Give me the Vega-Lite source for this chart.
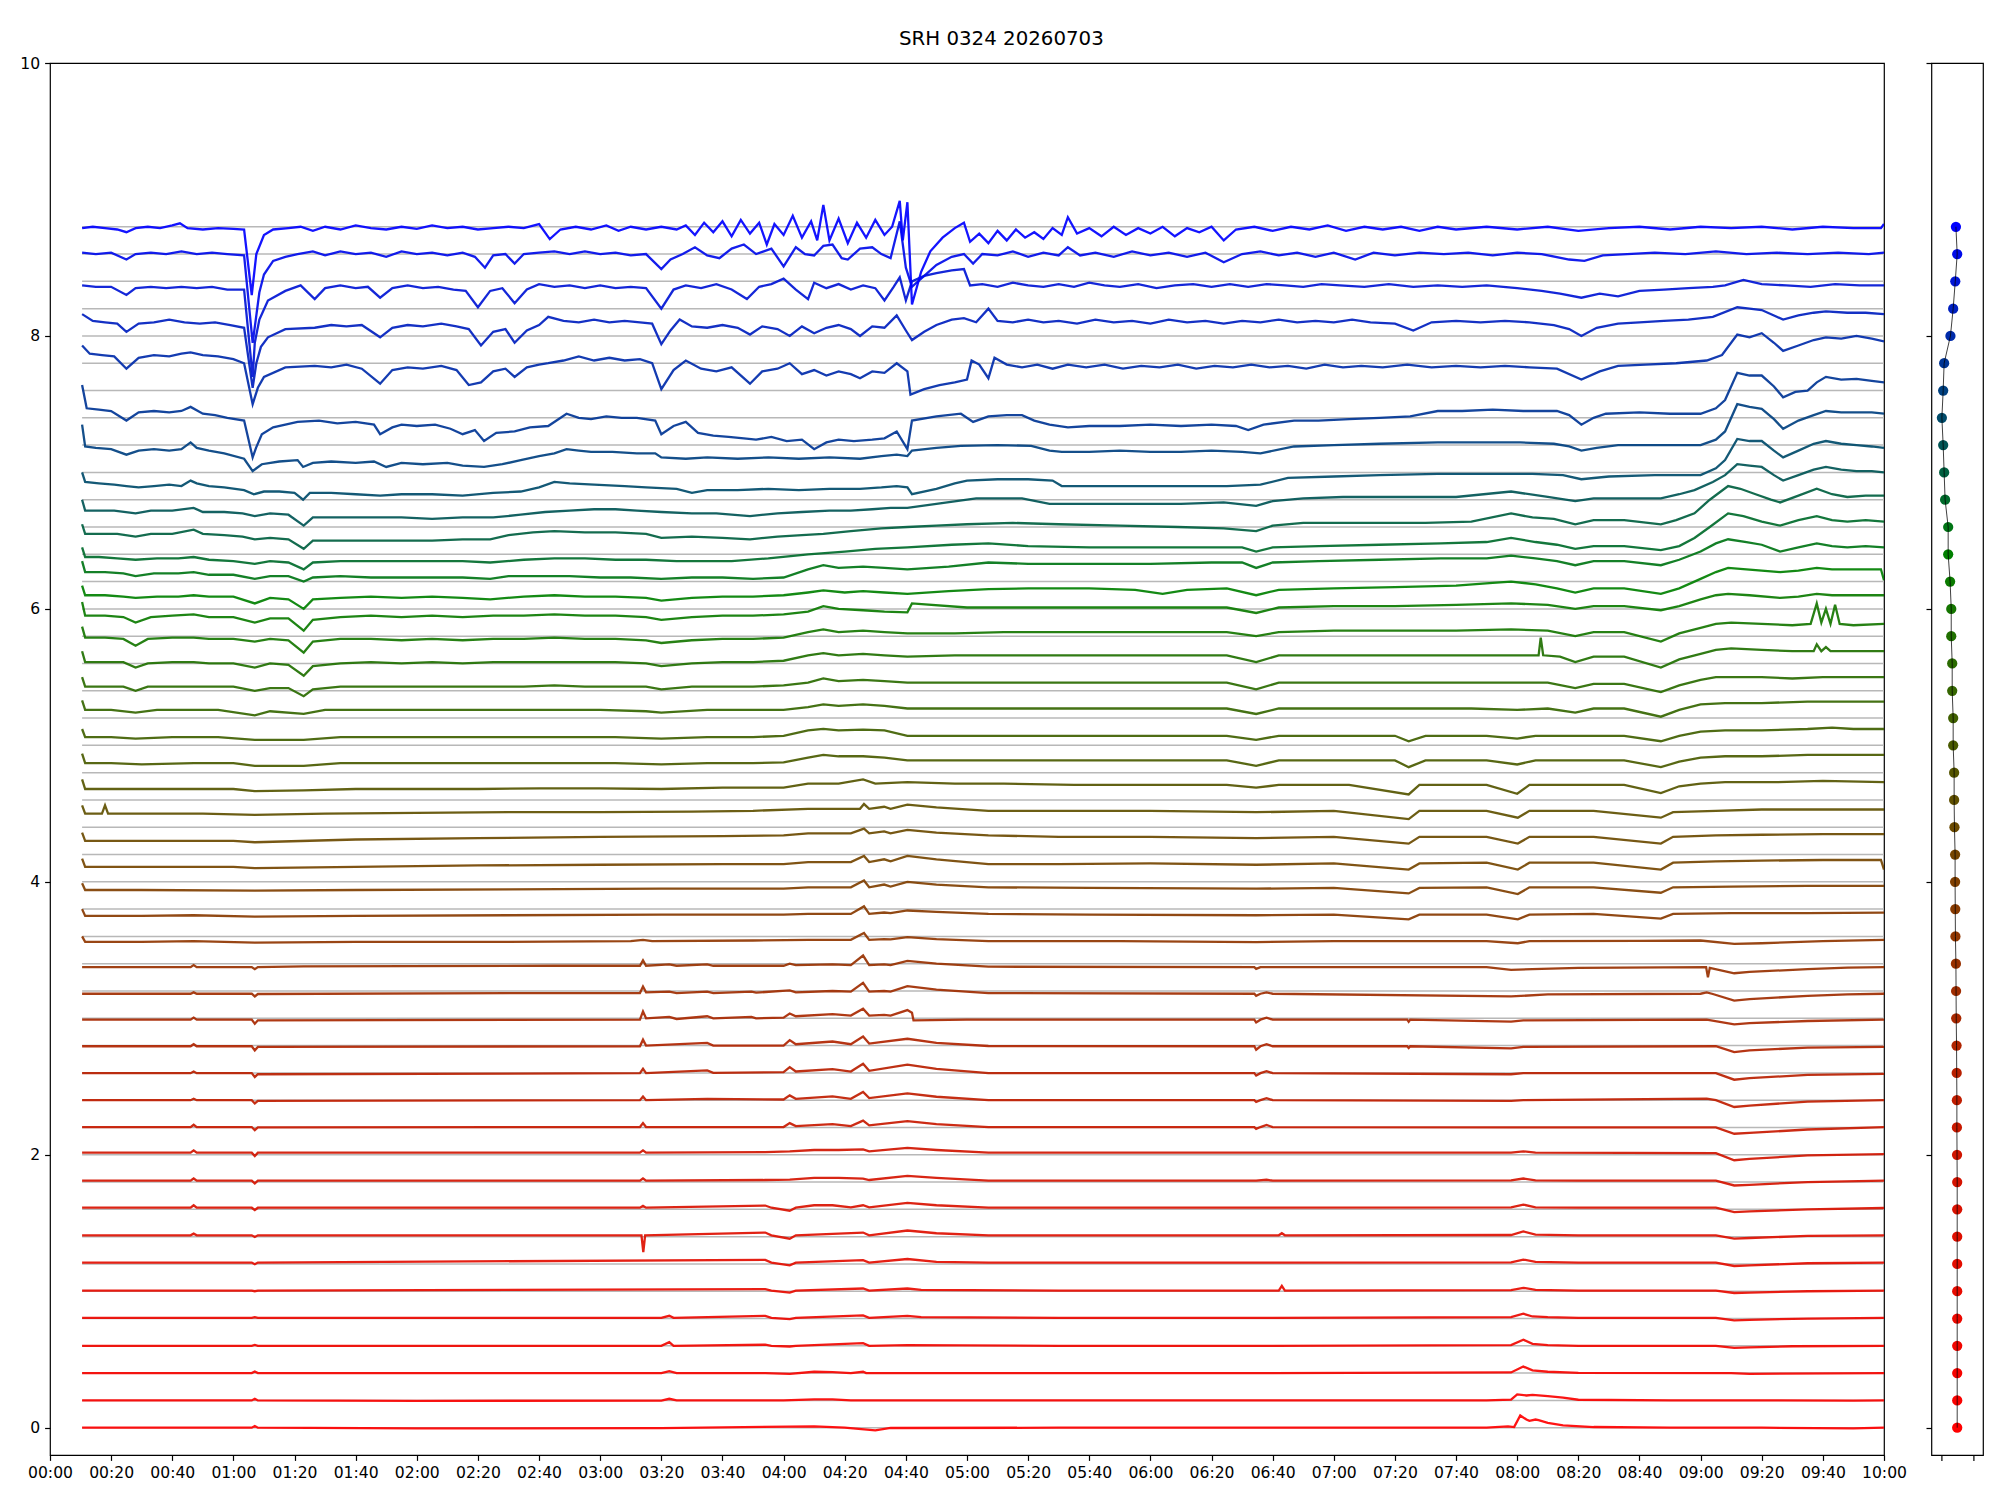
{"$schema":"https://vega.github.io/schema/vega-lite/v6.json","background":"white","padding":{"left":19,"top":29,"right":5,"bottom":5},
"title":{"text":"SRH 0324 20260703","fontSize":19.8,"font":"DejaVu Sans","fontWeight":"normal","color":"black","anchor":"middle","offset":6.5},
"config":{"view":{"stroke":"black","strokeWidth":1.2},"font":"DejaVu Sans","axis":{"domain":false,"tickColor":"black","tickWidth":1.2,"labelColor":"black","labelFont":"DejaVu Sans","labelFontSize":15.6,"grid":false,"title":null}},
"bounds":"flush",
"spacing":47.4,
"datasets":{
"pts":[{"s":0,"y":0,"x":0},{"s":1,"y":0.2,"x":0},{"s":2,"y":0.4,"x":0},{"s":3,"y":0.6,"x":0},{"s":4,"y":0.8,"x":0},{"s":5,"y":1.0,"x":0},{"s":6,"y":1.2,"x":0},{"s":7,"y":1.4,"x":0},{"s":8,"y":1.6,"x":0},{"s":9,"y":1.8,"x":0},{"s":10,"y":2.0,"x":-0.01},{"s":11,"y":2.2,"x":-0.02},{"s":12,"y":2.4,"x":-0.02},{"s":13,"y":2.6,"x":-0.03},{"s":14,"y":2.8,"x":-0.04},{"s":15,"y":3.0,"x":-0.06},{"s":16,"y":3.2,"x":-0.07},{"s":17,"y":3.4,"x":-0.08},{"s":18,"y":3.6,"x":-0.11},{"s":19,"y":3.8,"x":-0.12},{"s":20,"y":4.0,"x":-0.13},{"s":21,"y":4.2,"x":-0.13},{"s":22,"y":4.4,"x":-0.17},{"s":23,"y":4.6,"x":-0.19},{"s":24,"y":4.8,"x":-0.19},{"s":25,"y":5.0,"x":-0.25},{"s":26,"y":5.2,"x":-0.25},{"s":27,"y":5.4,"x":-0.31},{"s":28,"y":5.6,"x":-0.31},{"s":29,"y":5.8,"x":-0.37},{"s":30,"y":6.0,"x":-0.37},{"s":31,"y":6.2,"x":-0.44},{"s":32,"y":6.4,"x":-0.56},{"s":33,"y":6.6,"x":-0.56},{"s":34,"y":6.8,"x":-0.75},{"s":35,"y":7.0,"x":-0.81},{"s":36,"y":7.2,"x":-0.87},{"s":37,"y":7.4,"x":-0.95},{"s":38,"y":7.6,"x":-0.87},{"s":39,"y":7.8,"x":-0.81},{"s":40,"y":8.0,"x":-0.42},{"s":41,"y":8.2,"x":-0.25},{"s":42,"y":8.4,"x":-0.12},{"s":43,"y":8.6,"x":0.0},{"s":44,"y":8.8,"x":-0.08}],
"lines":[
{"s":0,"t":10.5,"y":0.0},{"s":0,"t":40,"y":0.0},{"s":0,"t":66,"y":0.0},{"s":0,"t":67,"y":0.012},{"s":0,"t":68,"y":0.0},{"s":0,"t":120,"y":-0.005},{"s":0,"t":200,"y":-0.003},{"s":0,"t":250,"y":0.01},{"s":0,"t":260,"y":0.0},{"s":0,"t":270,"y":-0.02},{"s":0,"t":275,"y":-0.002},{"s":0,"t":330,"y":0.0},{"s":0,"t":400,"y":0.0},{"s":0,"t":470,"y":0.0},{"s":0,"t":477,"y":0.01},{"s":0,"t":479,"y":0.005},{"s":0,"t":481,"y":0.09},{"s":0,"t":483,"y":0.06},{"s":0,"t":484,"y":0.05},{"s":0,"t":486,"y":0.06},{"s":0,"t":487,"y":0.055},{"s":0,"t":490,"y":0.035},{"s":0,"t":495,"y":0.017},{"s":0,"t":505,"y":0.005},{"s":0,"t":530,"y":0.0},{"s":0,"t":560,"y":0.0},{"s":0,"t":590,"y":-0.005},{"s":0,"t":600,"y":0.0},
{"s":1,"t":10.5,"y":0.2},{"s":1,"t":40,"y":0.2},{"s":1,"t":66,"y":0.2},{"s":1,"t":67,"y":0.212},{"s":1,"t":68,"y":0.2},{"s":1,"t":120,"y":0.197},{"s":1,"t":200,"y":0.198},{"s":1,"t":202.6,"y":0.212},{"s":1,"t":205,"y":0.2},{"s":1,"t":240,"y":0.2},{"s":1,"t":250,"y":0.207},{"s":1,"t":256,"y":0.207},{"s":1,"t":262,"y":0.2},{"s":1,"t":330,"y":0.2},{"s":1,"t":400,"y":0.2},{"s":1,"t":470,"y":0.2},{"s":1,"t":478,"y":0.205},{"s":1,"t":480,"y":0.244},{"s":1,"t":483,"y":0.236},{"s":1,"t":485,"y":0.24},{"s":1,"t":488,"y":0.235},{"s":1,"t":490,"y":0.232},{"s":1,"t":495,"y":0.22},{"s":1,"t":500,"y":0.205},{"s":1,"t":530,"y":0.2},{"s":1,"t":560,"y":0.2},{"s":1,"t":590,"y":0.198},{"s":1,"t":600,"y":0.2},
{"s":2,"t":10.5,"y":0.4},{"s":2,"t":40,"y":0.4},{"s":2,"t":66,"y":0.4},{"s":2,"t":67,"y":0.412},{"s":2,"t":68,"y":0.4},{"s":2,"t":120,"y":0.4},{"s":2,"t":200,"y":0.4},{"s":2,"t":202.6,"y":0.415},{"s":2,"t":205,"y":0.4},{"s":2,"t":234,"y":0.4},{"s":2,"t":242,"y":0.395},{"s":2,"t":250,"y":0.41},{"s":2,"t":256,"y":0.408},{"s":2,"t":262,"y":0.4},{"s":2,"t":266,"y":0.41},{"s":2,"t":267,"y":0.4},{"s":2,"t":330,"y":0.4},{"s":2,"t":400,"y":0.4},{"s":2,"t":478,"y":0.405},{"s":2,"t":482,"y":0.448},{"s":2,"t":485,"y":0.42},{"s":2,"t":490,"y":0.41},{"s":2,"t":500,"y":0.402},{"s":2,"t":550,"y":0.4},{"s":2,"t":556,"y":0.395},{"s":2,"t":600,"y":0.4},
{"s":3,"t":10.5,"y":0.6},{"s":3,"t":66,"y":0.6},{"s":3,"t":67,"y":0.607},{"s":3,"t":68,"y":0.6},{"s":3,"t":200,"y":0.6},{"s":3,"t":202.6,"y":0.627},{"s":3,"t":204,"y":0.6},{"s":3,"t":234,"y":0.608},{"s":3,"t":236,"y":0.6},{"s":3,"t":242,"y":0.595},{"s":3,"t":244,"y":0.6},{"s":3,"t":266,"y":0.62},{"s":3,"t":268,"y":0.6},{"s":3,"t":280.5,"y":0.605},{"s":3,"t":330,"y":0.6},{"s":3,"t":400,"y":0.6},{"s":3,"t":478,"y":0.605},{"s":3,"t":482,"y":0.645},{"s":3,"t":485,"y":0.615},{"s":3,"t":490,"y":0.605},{"s":3,"t":500,"y":0.6},{"s":3,"t":545,"y":0.6},{"s":3,"t":551,"y":0.585},{"s":3,"t":556,"y":0.588},{"s":3,"t":570,"y":0.597},{"s":3,"t":600,"y":0.6},
{"s":4,"t":10.5,"y":0.805},{"s":4,"t":66,"y":0.805},{"s":4,"t":67,"y":0.81},{"s":4,"t":68,"y":0.805},{"s":4,"t":200,"y":0.805},{"s":4,"t":202.6,"y":0.82},{"s":4,"t":204,"y":0.805},{"s":4,"t":234,"y":0.82},{"s":4,"t":236,"y":0.805},{"s":4,"t":242,"y":0.795},{"s":4,"t":244,"y":0.805},{"s":4,"t":266,"y":0.823},{"s":4,"t":268,"y":0.805},{"s":4,"t":280.5,"y":0.82},{"s":4,"t":285,"y":0.81},{"s":4,"t":330,"y":0.805},{"s":4,"t":400,"y":0.805},{"s":4,"t":478,"y":0.81},{"s":4,"t":482,"y":0.835},{"s":4,"t":485,"y":0.815},{"s":4,"t":490,"y":0.81},{"s":4,"t":500,"y":0.805},{"s":4,"t":545,"y":0.805},{"s":4,"t":551,"y":0.787},{"s":4,"t":556,"y":0.79},{"s":4,"t":575,"y":0.8},{"s":4,"t":600,"y":0.805},
{"s":5,"t":10.5,"y":1.005},{"s":5,"t":66,"y":1.005},{"s":5,"t":67,"y":1.0},{"s":5,"t":68,"y":1.005},{"s":5,"t":234,"y":1.015},{"s":5,"t":236,"y":1.005},{"s":5,"t":242,"y":0.99},{"s":5,"t":244,"y":1.005},{"s":5,"t":266,"y":1.02},{"s":5,"t":268,"y":1.005},{"s":5,"t":280.5,"y":1.02},{"s":5,"t":285,"y":1.01},{"s":5,"t":330,"y":1.005},{"s":5,"t":402,"y":1.005},{"s":5,"t":403,"y":1.04},{"s":5,"t":404,"y":1.005},{"s":5,"t":478,"y":1.008},{"s":5,"t":482,"y":1.025},{"s":5,"t":486,"y":1.01},{"s":5,"t":500,"y":1.005},{"s":5,"t":545,"y":1.005},{"s":5,"t":551,"y":0.987},{"s":5,"t":556,"y":0.99},{"s":5,"t":575,"y":1.0},{"s":5,"t":600,"y":1.005},
{"s":6,"t":10.5,"y":1.21},{"s":6,"t":47,"y":1.21},{"s":6,"t":66,"y":1.21},{"s":6,"t":67,"y":1.198},{"s":6,"t":68,"y":1.21},{"s":6,"t":234,"y":1.23},{"s":6,"t":236,"y":1.21},{"s":6,"t":242,"y":1.19},{"s":6,"t":244,"y":1.21},{"s":6,"t":266,"y":1.228},{"s":6,"t":268,"y":1.21},{"s":6,"t":280.5,"y":1.236},{"s":6,"t":290,"y":1.215},{"s":6,"t":307,"y":1.21},{"s":6,"t":398,"y":1.21},{"s":6,"t":478,"y":1.212},{"s":6,"t":482,"y":1.232},{"s":6,"t":486,"y":1.215},{"s":6,"t":500,"y":1.21},{"s":6,"t":545,"y":1.21},{"s":6,"t":551,"y":1.185},{"s":6,"t":556,"y":1.19},{"s":6,"t":575,"y":1.205},{"s":6,"t":600,"y":1.21},
{"s":7,"t":10.5,"y":1.41},{"s":7,"t":46,"y":1.41},{"s":7,"t":47,"y":1.422},{"s":7,"t":48,"y":1.41},{"s":7,"t":66,"y":1.41},{"s":7,"t":67,"y":1.398},{"s":7,"t":68,"y":1.41},{"s":7,"t":193.5,"y":1.41},{"s":7,"t":194.1,"y":1.287},{"s":7,"t":194.7,"y":1.41},{"s":7,"t":234,"y":1.43},{"s":7,"t":236,"y":1.41},{"s":7,"t":242,"y":1.385},{"s":7,"t":244,"y":1.41},{"s":7,"t":266,"y":1.43},{"s":7,"t":268,"y":1.41},{"s":7,"t":280.5,"y":1.445},{"s":7,"t":290,"y":1.425},{"s":7,"t":307,"y":1.41},{"s":7,"t":402,"y":1.41},{"s":7,"t":403,"y":1.425},{"s":7,"t":404,"y":1.41},{"s":7,"t":478,"y":1.412},{"s":7,"t":482,"y":1.438},{"s":7,"t":486,"y":1.415},{"s":7,"t":500,"y":1.41},{"s":7,"t":545,"y":1.41},{"s":7,"t":551,"y":1.385},{"s":7,"t":556,"y":1.39},{"s":7,"t":575,"y":1.405},{"s":7,"t":600,"y":1.41},
{"s":8,"t":10.5,"y":1.612},{"s":8,"t":46,"y":1.612},{"s":8,"t":47,"y":1.63},{"s":8,"t":48,"y":1.612},{"s":8,"t":66,"y":1.612},{"s":8,"t":67,"y":1.595},{"s":8,"t":68,"y":1.612},{"s":8,"t":193,"y":1.612},{"s":8,"t":194,"y":1.625},{"s":8,"t":195,"y":1.612},{"s":8,"t":234,"y":1.628},{"s":8,"t":236,"y":1.612},{"s":8,"t":242,"y":1.59},{"s":8,"t":244,"y":1.612},{"s":8,"t":250,"y":1.63},{"s":8,"t":256,"y":1.63},{"s":8,"t":262,"y":1.615},{"s":8,"t":266,"y":1.63},{"s":8,"t":268,"y":1.615},{"s":8,"t":280.5,"y":1.648},{"s":8,"t":290,"y":1.63},{"s":8,"t":307,"y":1.612},{"s":8,"t":400,"y":1.612},{"s":8,"t":478,"y":1.614},{"s":8,"t":482,"y":1.635},{"s":8,"t":486,"y":1.615},{"s":8,"t":500,"y":1.612},{"s":8,"t":545,"y":1.612},{"s":8,"t":551,"y":1.58},{"s":8,"t":556,"y":1.585},{"s":8,"t":575,"y":1.6},{"s":8,"t":600,"y":1.61},
{"s":9,"t":10.5,"y":1.81},{"s":9,"t":46,"y":1.81},{"s":9,"t":47,"y":1.826},{"s":9,"t":48,"y":1.81},{"s":9,"t":66,"y":1.81},{"s":9,"t":67,"y":1.79},{"s":9,"t":68,"y":1.81},{"s":9,"t":193,"y":1.81},{"s":9,"t":194,"y":1.826},{"s":9,"t":195,"y":1.81},{"s":9,"t":234,"y":1.815},{"s":9,"t":242,"y":1.818},{"s":9,"t":250,"y":1.83},{"s":9,"t":258,"y":1.83},{"s":9,"t":266,"y":1.825},{"s":9,"t":268,"y":1.815},{"s":9,"t":280.5,"y":1.845},{"s":9,"t":290,"y":1.83},{"s":9,"t":307,"y":1.81},{"s":9,"t":394.6,"y":1.81},{"s":9,"t":398,"y":1.817},{"s":9,"t":400,"y":1.81},{"s":9,"t":478,"y":1.812},{"s":9,"t":482,"y":1.826},{"s":9,"t":486,"y":1.812},{"s":9,"t":500,"y":1.81},{"s":9,"t":545,"y":1.81},{"s":9,"t":551,"y":1.775},{"s":9,"t":556,"y":1.78},{"s":9,"t":575,"y":1.8},{"s":9,"t":600,"y":1.81},
{"s":10,"t":10.5,"y":2.015},{"s":10,"t":46,"y":2.015},{"s":10,"t":47,"y":2.032},{"s":10,"t":48,"y":2.015},{"s":10,"t":66,"y":2.015},{"s":10,"t":67,"y":1.99},{"s":10,"t":68,"y":2.015},{"s":10,"t":193,"y":2.015},{"s":10,"t":194,"y":2.032},{"s":10,"t":195,"y":2.015},{"s":10,"t":234,"y":2.02},{"s":10,"t":242,"y":2.025},{"s":10,"t":250,"y":2.035},{"s":10,"t":258,"y":2.035},{"s":10,"t":266,"y":2.04},{"s":10,"t":268,"y":2.025},{"s":10,"t":280.5,"y":2.05},{"s":10,"t":290,"y":2.035},{"s":10,"t":307,"y":2.015},{"s":10,"t":400,"y":2.015},{"s":10,"t":478,"y":2.015},{"s":10,"t":482,"y":2.025},{"s":10,"t":486,"y":2.015},{"s":10,"t":545,"y":2.012},{"s":10,"t":551,"y":1.96},{"s":10,"t":556,"y":1.97},{"s":10,"t":575,"y":1.995},{"s":10,"t":600,"y":2.005},
{"s":11,"t":10.5,"y":2.203},{"s":11,"t":46,"y":2.203},{"s":11,"t":47,"y":2.22},{"s":11,"t":48,"y":2.203},{"s":11,"t":66,"y":2.203},{"s":11,"t":67,"y":2.18},{"s":11,"t":68,"y":2.2},{"s":11,"t":193,"y":2.203},{"s":11,"t":194,"y":2.232},{"s":11,"t":195,"y":2.203},{"s":11,"t":240,"y":2.203},{"s":11,"t":242,"y":2.232},{"s":11,"t":244,"y":2.21},{"s":11,"t":256,"y":2.225},{"s":11,"t":262,"y":2.21},{"s":11,"t":266,"y":2.25},{"s":11,"t":268,"y":2.215},{"s":11,"t":280.5,"y":2.247},{"s":11,"t":290,"y":2.225},{"s":11,"t":307,"y":2.203},{"s":11,"t":394,"y":2.203},{"s":11,"t":394.6,"y":2.19},{"s":11,"t":396,"y":2.203},{"s":11,"t":398,"y":2.218},{"s":11,"t":400,"y":2.203},{"s":11,"t":478,"y":2.2},{"s":11,"t":545,"y":2.2},{"s":11,"t":551,"y":2.154},{"s":11,"t":556,"y":2.16},{"s":11,"t":575,"y":2.185},{"s":11,"t":600,"y":2.203},
{"s":12,"t":10.5,"y":2.4},{"s":12,"t":46,"y":2.4},{"s":12,"t":47,"y":2.41},{"s":12,"t":48,"y":2.4},{"s":12,"t":66,"y":2.4},{"s":12,"t":67,"y":2.376},{"s":12,"t":68,"y":2.395},{"s":12,"t":193,"y":2.4},{"s":12,"t":194,"y":2.427},{"s":12,"t":195,"y":2.4},{"s":12,"t":215,"y":2.41},{"s":12,"t":240,"y":2.405},{"s":12,"t":242,"y":2.435},{"s":12,"t":244,"y":2.41},{"s":12,"t":256,"y":2.428},{"s":12,"t":262,"y":2.41},{"s":12,"t":266,"y":2.46},{"s":12,"t":268,"y":2.415},{"s":12,"t":280.5,"y":2.45},{"s":12,"t":290,"y":2.425},{"s":12,"t":307,"y":2.4},{"s":12,"t":394,"y":2.4},{"s":12,"t":394.6,"y":2.388},{"s":12,"t":396,"y":2.4},{"s":12,"t":398,"y":2.415},{"s":12,"t":400,"y":2.4},{"s":12,"t":478,"y":2.395},{"s":12,"t":482,"y":2.4},{"s":12,"t":542,"y":2.412},{"s":12,"t":545,"y":2.4},{"s":12,"t":551,"y":2.35},{"s":12,"t":556,"y":2.36},{"s":12,"t":575,"y":2.39},{"s":12,"t":600,"y":2.4},
{"s":13,"t":10.5,"y":2.598},{"s":13,"t":46,"y":2.598},{"s":13,"t":47,"y":2.61},{"s":13,"t":48,"y":2.598},{"s":13,"t":66,"y":2.598},{"s":13,"t":67,"y":2.57},{"s":13,"t":68,"y":2.59},{"s":13,"t":193,"y":2.598},{"s":13,"t":194,"y":2.63},{"s":13,"t":195,"y":2.598},{"s":13,"t":215,"y":2.618},{"s":13,"t":217,"y":2.6},{"s":13,"t":240,"y":2.605},{"s":13,"t":242,"y":2.642},{"s":13,"t":244,"y":2.61},{"s":13,"t":256,"y":2.628},{"s":13,"t":262,"y":2.61},{"s":13,"t":266,"y":2.667},{"s":13,"t":268,"y":2.615},{"s":13,"t":280.5,"y":2.66},{"s":13,"t":290,"y":2.63},{"s":13,"t":307,"y":2.598},{"s":13,"t":394,"y":2.598},{"s":13,"t":394.6,"y":2.58},{"s":13,"t":396,"y":2.598},{"s":13,"t":398,"y":2.612},{"s":13,"t":400,"y":2.598},{"s":13,"t":478,"y":2.59},{"s":13,"t":482,"y":2.598},{"s":13,"t":545,"y":2.598},{"s":13,"t":551,"y":2.55},{"s":13,"t":556,"y":2.562},{"s":13,"t":575,"y":2.585},{"s":13,"t":600,"y":2.593},
{"s":14,"t":10.5,"y":2.795},{"s":14,"t":46,"y":2.795},{"s":14,"t":47,"y":2.81},{"s":14,"t":48,"y":2.795},{"s":14,"t":66,"y":2.795},{"s":14,"t":67,"y":2.765},{"s":14,"t":68,"y":2.79},{"s":14,"t":193,"y":2.795},{"s":14,"t":194,"y":2.843},{"s":14,"t":195,"y":2.8},{"s":14,"t":215,"y":2.82},{"s":14,"t":217,"y":2.8},{"s":14,"t":240,"y":2.8},{"s":14,"t":242,"y":2.84},{"s":14,"t":244,"y":2.81},{"s":14,"t":256,"y":2.83},{"s":14,"t":262,"y":2.81},{"s":14,"t":266,"y":2.867},{"s":14,"t":268,"y":2.815},{"s":14,"t":280.5,"y":2.85},{"s":14,"t":290,"y":2.82},{"s":14,"t":307,"y":2.797},{"s":14,"t":394,"y":2.795},{"s":14,"t":394.6,"y":2.77},{"s":14,"t":396,"y":2.795},{"s":14,"t":398,"y":2.81},{"s":14,"t":400,"y":2.795},{"s":14,"t":444,"y":2.795},{"s":14,"t":444.5,"y":2.782},{"s":14,"t":445,"y":2.795},{"s":14,"t":478,"y":2.78},{"s":14,"t":482,"y":2.79},{"s":14,"t":545,"y":2.795},{"s":14,"t":551,"y":2.752},{"s":14,"t":556,"y":2.765},{"s":14,"t":575,"y":2.785},{"s":14,"t":600,"y":2.79},
{"s":15,"t":10.5,"y":2.99},{"s":15,"t":46,"y":2.99},{"s":15,"t":47,"y":3.005},{"s":15,"t":48,"y":2.99},{"s":15,"t":66,"y":2.99},{"s":15,"t":67,"y":2.96},{"s":15,"t":68,"y":2.985},{"s":15,"t":193,"y":2.99},{"s":15,"t":194,"y":3.05},{"s":15,"t":195,"y":3.0},{"s":15,"t":202.6,"y":3.01},{"s":15,"t":205,"y":2.995},{"s":15,"t":215,"y":3.015},{"s":15,"t":217,"y":3.0},{"s":15,"t":229.5,"y":3.01},{"s":15,"t":231,"y":3.0},{"s":15,"t":240,"y":3.005},{"s":15,"t":242,"y":3.035},{"s":15,"t":244,"y":3.015},{"s":15,"t":256,"y":3.03},{"s":15,"t":262,"y":3.02},{"s":15,"t":266,"y":3.07},{"s":15,"t":268,"y":3.02},{"s":15,"t":272.9,"y":3.025},{"s":15,"t":275,"y":3.02},{"s":15,"t":280.5,"y":3.06},{"s":15,"t":282,"y":3.04},{"s":15,"t":282.5,"y":2.985},{"s":15,"t":300,"y":2.99},{"s":15,"t":394,"y":2.99},{"s":15,"t":394.6,"y":2.97},{"s":15,"t":396,"y":2.99},{"s":15,"t":398,"y":3.005},{"s":15,"t":400,"y":2.99},{"s":15,"t":444,"y":2.99},{"s":15,"t":444.5,"y":2.975},{"s":15,"t":445,"y":2.99},{"s":15,"t":478,"y":2.975},{"s":15,"t":482,"y":2.985},{"s":15,"t":542,"y":2.99},{"s":15,"t":551,"y":2.955},{"s":15,"t":556,"y":2.965},{"s":15,"t":575,"y":2.98},{"s":15,"t":600,"y":2.99},
{"s":16,"t":10.5,"y":3.18},{"s":16,"t":46,"y":3.18},{"s":16,"t":47,"y":3.19},{"s":16,"t":48,"y":3.18},{"s":16,"t":66,"y":3.18},{"s":16,"t":67,"y":3.16},{"s":16,"t":68,"y":3.178},{"s":16,"t":165,"y":3.185},{"s":16,"t":193,"y":3.185},{"s":16,"t":194,"y":3.233},{"s":16,"t":195,"y":3.19},{"s":16,"t":202.6,"y":3.195},{"s":16,"t":205,"y":3.185},{"s":16,"t":215,"y":3.195},{"s":16,"t":217,"y":3.185},{"s":16,"t":229.5,"y":3.195},{"s":16,"t":231,"y":3.188},{"s":16,"t":242,"y":3.205},{"s":16,"t":244,"y":3.19},{"s":16,"t":256,"y":3.2},{"s":16,"t":262,"y":3.195},{"s":16,"t":266,"y":3.26},{"s":16,"t":268,"y":3.195},{"s":16,"t":272.9,"y":3.2},{"s":16,"t":275,"y":3.195},{"s":16,"t":280.5,"y":3.236},{"s":16,"t":290,"y":3.21},{"s":16,"t":307,"y":3.185},{"s":16,"t":394,"y":3.18},{"s":16,"t":394.6,"y":3.165},{"s":16,"t":396,"y":3.18},{"s":16,"t":398,"y":3.19},{"s":16,"t":400,"y":3.18},{"s":16,"t":478,"y":3.16},{"s":16,"t":490,"y":3.175},{"s":16,"t":540,"y":3.18},{"s":16,"t":542,"y":3.19},{"s":16,"t":544,"y":3.178},{"s":16,"t":551,"y":3.13},{"s":16,"t":556,"y":3.14},{"s":16,"t":575,"y":3.165},{"s":16,"t":588,"y":3.175},{"s":16,"t":600,"y":3.18},
{"s":17,"t":10.5,"y":3.375},{"s":17,"t":46,"y":3.375},{"s":17,"t":47,"y":3.39},{"s":17,"t":48,"y":3.375},{"s":17,"t":66,"y":3.375},{"s":17,"t":67,"y":3.36},{"s":17,"t":68,"y":3.375},{"s":17,"t":83,"y":3.38},{"s":17,"t":165,"y":3.385},{"s":17,"t":193,"y":3.385},{"s":17,"t":194,"y":3.424},{"s":17,"t":195,"y":3.385},{"s":17,"t":202.6,"y":3.395},{"s":17,"t":205,"y":3.385},{"s":17,"t":215,"y":3.395},{"s":17,"t":217,"y":3.385},{"s":17,"t":240,"y":3.385},{"s":17,"t":242,"y":3.4},{"s":17,"t":244,"y":3.39},{"s":17,"t":256,"y":3.395},{"s":17,"t":262,"y":3.39},{"s":17,"t":266,"y":3.46},{"s":17,"t":268,"y":3.39},{"s":17,"t":272.9,"y":3.395},{"s":17,"t":275,"y":3.39},{"s":17,"t":280.5,"y":3.42},{"s":17,"t":290,"y":3.4},{"s":17,"t":307,"y":3.378},{"s":17,"t":394,"y":3.375},{"s":17,"t":394.6,"y":3.362},{"s":17,"t":396,"y":3.375},{"s":17,"t":470,"y":3.375},{"s":17,"t":478,"y":3.355},{"s":17,"t":485,"y":3.36},{"s":17,"t":500,"y":3.37},{"s":17,"t":541.8,"y":3.375},{"s":17,"t":542.4,"y":3.3},{"s":17,"t":543,"y":3.37},{"s":17,"t":551,"y":3.33},{"s":17,"t":556,"y":3.34},{"s":17,"t":575,"y":3.36},{"s":17,"t":588,"y":3.372},{"s":17,"t":600,"y":3.375},
{"s":18,"t":10.5,"y":3.6},{"s":18,"t":11.5,"y":3.56},{"s":18,"t":30,"y":3.56},{"s":18,"t":47,"y":3.565},{"s":18,"t":67,"y":3.555},{"s":18,"t":100,"y":3.56},{"s":18,"t":150,"y":3.56},{"s":18,"t":190,"y":3.565},{"s":18,"t":194,"y":3.575},{"s":18,"t":197,"y":3.565},{"s":18,"t":230,"y":3.57},{"s":18,"t":248,"y":3.575},{"s":18,"t":262,"y":3.575},{"s":18,"t":266.3,"y":3.625},{"s":18,"t":268,"y":3.575},{"s":18,"t":272.9,"y":3.58},{"s":18,"t":275,"y":3.578},{"s":18,"t":280.5,"y":3.595},{"s":18,"t":290,"y":3.58},{"s":18,"t":307,"y":3.565},{"s":18,"t":350,"y":3.565},{"s":18,"t":394.6,"y":3.558},{"s":18,"t":420,"y":3.565},{"s":18,"t":470,"y":3.565},{"s":18,"t":480.2,"y":3.55},{"s":18,"t":484,"y":3.565},{"s":18,"t":520,"y":3.568},{"s":18,"t":540,"y":3.57},{"s":18,"t":551,"y":3.545},{"s":18,"t":560,"y":3.55},{"s":18,"t":580,"y":3.565},{"s":18,"t":600,"y":3.575},
{"s":19,"t":10.5,"y":3.8},{"s":19,"t":11.5,"y":3.75},{"s":19,"t":30,"y":3.75},{"s":19,"t":47,"y":3.755},{"s":19,"t":67,"y":3.745},{"s":19,"t":100,"y":3.75},{"s":19,"t":150,"y":3.755},{"s":19,"t":200,"y":3.76},{"s":19,"t":240,"y":3.76},{"s":19,"t":248,"y":3.765},{"s":19,"t":262,"y":3.765},{"s":19,"t":266.3,"y":3.82},{"s":19,"t":268,"y":3.765},{"s":19,"t":272.9,"y":3.775},{"s":19,"t":275,"y":3.77},{"s":19,"t":280.5,"y":3.79},{"s":19,"t":290,"y":3.78},{"s":19,"t":307,"y":3.765},{"s":19,"t":340,"y":3.76},{"s":19,"t":394.6,"y":3.755},{"s":19,"t":420,"y":3.76},{"s":19,"t":444.5,"y":3.725},{"s":19,"t":448,"y":3.76},{"s":19,"t":470,"y":3.76},{"s":19,"t":480.2,"y":3.725},{"s":19,"t":484,"y":3.76},{"s":19,"t":505,"y":3.765},{"s":19,"t":527,"y":3.73},{"s":19,"t":531,"y":3.765},{"s":19,"t":550,"y":3.77},{"s":19,"t":575,"y":3.77},{"s":19,"t":600,"y":3.775},
{"s":20,"t":10.5,"y":3.99},{"s":20,"t":11.5,"y":3.94},{"s":20,"t":30,"y":3.94},{"s":20,"t":67,"y":3.935},{"s":20,"t":100,"y":3.94},{"s":20,"t":150,"y":3.945},{"s":20,"t":200,"y":3.95},{"s":20,"t":240,"y":3.95},{"s":20,"t":248,"y":3.96},{"s":20,"t":262,"y":3.96},{"s":20,"t":266.3,"y":4.01},{"s":20,"t":268,"y":3.96},{"s":20,"t":272.9,"y":3.98},{"s":20,"t":275,"y":3.965},{"s":20,"t":280.5,"y":4.0},{"s":20,"t":290,"y":3.98},{"s":20,"t":307,"y":3.96},{"s":20,"t":340,"y":3.955},{"s":20,"t":394.6,"y":3.95},{"s":20,"t":420,"y":3.955},{"s":20,"t":444.5,"y":3.915},{"s":20,"t":448,"y":3.955},{"s":20,"t":470,"y":3.96},{"s":20,"t":480.2,"y":3.91},{"s":20,"t":484,"y":3.96},{"s":20,"t":505,"y":3.96},{"s":20,"t":527,"y":3.92},{"s":20,"t":531,"y":3.96},{"s":20,"t":550,"y":3.965},{"s":20,"t":575,"y":3.97},{"s":20,"t":600,"y":3.97},
{"s":21,"t":10.5,"y":4.17},{"s":21,"t":11.5,"y":4.11},{"s":21,"t":30,"y":4.11},{"s":21,"t":60,"y":4.11},{"s":21,"t":67,"y":4.1},{"s":21,"t":100,"y":4.11},{"s":21,"t":140,"y":4.12},{"s":21,"t":180,"y":4.125},{"s":21,"t":220,"y":4.13},{"s":21,"t":240,"y":4.13},{"s":21,"t":248,"y":4.145},{"s":21,"t":262,"y":4.145},{"s":21,"t":266.3,"y":4.19},{"s":21,"t":268,"y":4.145},{"s":21,"t":272.9,"y":4.165},{"s":21,"t":275,"y":4.15},{"s":21,"t":280.5,"y":4.19},{"s":21,"t":290,"y":4.165},{"s":21,"t":307,"y":4.13},{"s":21,"t":330,"y":4.13},{"s":21,"t":360,"y":4.135},{"s":21,"t":394.6,"y":4.125},{"s":21,"t":420,"y":4.135},{"s":21,"t":444.5,"y":4.09},{"s":21,"t":448,"y":4.135},{"s":21,"t":470,"y":4.14},{"s":21,"t":480.2,"y":4.09},{"s":21,"t":484,"y":4.14},{"s":21,"t":505,"y":4.14},{"s":21,"t":527,"y":4.09},{"s":21,"t":531,"y":4.14},{"s":21,"t":545,"y":4.15},{"s":21,"t":560,"y":4.155},{"s":21,"t":580,"y":4.16},{"s":21,"t":599,"y":4.16},{"s":21,"t":600,"y":4.09},
{"s":22,"t":10.5,"y":4.36},{"s":22,"t":11.5,"y":4.3},{"s":22,"t":30,"y":4.3},{"s":22,"t":60,"y":4.3},{"s":22,"t":67,"y":4.29},{"s":22,"t":100,"y":4.31},{"s":22,"t":140,"y":4.32},{"s":22,"t":180,"y":4.33},{"s":22,"t":220,"y":4.335},{"s":22,"t":240,"y":4.34},{"s":22,"t":248,"y":4.355},{"s":22,"t":262,"y":4.355},{"s":22,"t":266.3,"y":4.39},{"s":22,"t":268,"y":4.355},{"s":22,"t":272.9,"y":4.37},{"s":22,"t":275,"y":4.355},{"s":22,"t":280.5,"y":4.38},{"s":22,"t":290,"y":4.36},{"s":22,"t":307,"y":4.34},{"s":22,"t":330,"y":4.33},{"s":22,"t":360,"y":4.33},{"s":22,"t":394.6,"y":4.32},{"s":22,"t":420,"y":4.33},{"s":22,"t":444.5,"y":4.28},{"s":22,"t":448,"y":4.33},{"s":22,"t":470,"y":4.33},{"s":22,"t":480.2,"y":4.28},{"s":22,"t":484,"y":4.33},{"s":22,"t":505,"y":4.33},{"s":22,"t":527,"y":4.28},{"s":22,"t":531,"y":4.33},{"s":22,"t":545,"y":4.34},{"s":22,"t":560,"y":4.345},{"s":22,"t":580,"y":4.35},{"s":22,"t":600,"y":4.35},
{"s":23,"t":10.5,"y":4.56},{"s":23,"t":11.5,"y":4.5},{"s":23,"t":17,"y":4.5},{"s":23,"t":18,"y":4.56},{"s":23,"t":19,"y":4.5},{"s":23,"t":30,"y":4.5},{"s":23,"t":50,"y":4.5},{"s":23,"t":67,"y":4.49},{"s":23,"t":90,"y":4.5},{"s":23,"t":120,"y":4.505},{"s":23,"t":150,"y":4.51},{"s":23,"t":180,"y":4.51},{"s":23,"t":210,"y":4.515},{"s":23,"t":230,"y":4.52},{"s":23,"t":248,"y":4.535},{"s":23,"t":265,"y":4.535},{"s":23,"t":266.3,"y":4.57},{"s":23,"t":268,"y":4.535},{"s":23,"t":272.9,"y":4.55},{"s":23,"t":275,"y":4.535},{"s":23,"t":280.5,"y":4.565},{"s":23,"t":290,"y":4.545},{"s":23,"t":307,"y":4.52},{"s":23,"t":330,"y":4.52},{"s":23,"t":360,"y":4.52},{"s":23,"t":394.6,"y":4.51},{"s":23,"t":420,"y":4.52},{"s":23,"t":444.5,"y":4.46},{"s":23,"t":448,"y":4.52},{"s":23,"t":470,"y":4.52},{"s":23,"t":480.2,"y":4.47},{"s":23,"t":484,"y":4.52},{"s":23,"t":505,"y":4.52},{"s":23,"t":527,"y":4.47},{"s":23,"t":531,"y":4.51},{"s":23,"t":545,"y":4.52},{"s":23,"t":560,"y":4.53},{"s":23,"t":580,"y":4.53},{"s":23,"t":600,"y":4.53},
{"s":24,"t":10.5,"y":4.75},{"s":24,"t":11.5,"y":4.68},{"s":24,"t":25,"y":4.68},{"s":24,"t":40,"y":4.68},{"s":24,"t":60,"y":4.68},{"s":24,"t":67,"y":4.665},{"s":24,"t":83,"y":4.67},{"s":24,"t":100,"y":4.68},{"s":24,"t":120,"y":4.68},{"s":24,"t":140,"y":4.68},{"s":24,"t":160,"y":4.685},{"s":24,"t":180,"y":4.685},{"s":24,"t":200,"y":4.68},{"s":24,"t":220,"y":4.69},{"s":24,"t":240,"y":4.69},{"s":24,"t":248,"y":4.72},{"s":24,"t":258,"y":4.72},{"s":24,"t":266,"y":4.75},{"s":24,"t":270,"y":4.72},{"s":24,"t":280.5,"y":4.73},{"s":24,"t":296,"y":4.72},{"s":24,"t":312,"y":4.72},{"s":24,"t":335,"y":4.71},{"s":24,"t":360,"y":4.71},{"s":24,"t":385,"y":4.71},{"s":24,"t":394.6,"y":4.69},{"s":24,"t":402,"y":4.71},{"s":24,"t":425,"y":4.71},{"s":24,"t":444.5,"y":4.64},{"s":24,"t":448,"y":4.71},{"s":24,"t":470,"y":4.71},{"s":24,"t":480,"y":4.645},{"s":24,"t":484,"y":4.71},{"s":24,"t":500,"y":4.71},{"s":24,"t":515,"y":4.71},{"s":24,"t":527,"y":4.65},{"s":24,"t":533,"y":4.7},{"s":24,"t":540,"y":4.72},{"s":24,"t":548,"y":4.73},{"s":24,"t":565,"y":4.73},{"s":24,"t":580,"y":4.74},{"s":24,"t":600,"y":4.73},
{"s":25,"t":10.5,"y":4.94},{"s":25,"t":11.5,"y":4.87},{"s":25,"t":20,"y":4.87},{"s":25,"t":30,"y":4.86},{"s":25,"t":47,"y":4.87},{"s":25,"t":60,"y":4.87},{"s":25,"t":67,"y":4.85},{"s":25,"t":83,"y":4.85},{"s":25,"t":95,"y":4.87},{"s":25,"t":110,"y":4.87},{"s":25,"t":125,"y":4.87},{"s":25,"t":140,"y":4.87},{"s":25,"t":155,"y":4.87},{"s":25,"t":170,"y":4.87},{"s":25,"t":185,"y":4.87},{"s":25,"t":200,"y":4.86},{"s":25,"t":215,"y":4.87},{"s":25,"t":230,"y":4.87},{"s":25,"t":240,"y":4.875},{"s":25,"t":248,"y":4.91},{"s":25,"t":253,"y":4.93},{"s":25,"t":258,"y":4.92},{"s":25,"t":266,"y":4.92},{"s":25,"t":273,"y":4.91},{"s":25,"t":280.5,"y":4.89},{"s":25,"t":296,"y":4.89},{"s":25,"t":312,"y":4.89},{"s":25,"t":330,"y":4.89},{"s":25,"t":350,"y":4.89},{"s":25,"t":370,"y":4.89},{"s":25,"t":385,"y":4.89},{"s":25,"t":394.6,"y":4.85},{"s":25,"t":402,"y":4.89},{"s":25,"t":420,"y":4.89},{"s":25,"t":440,"y":4.89},{"s":25,"t":444.5,"y":4.84},{"s":25,"t":450,"y":4.89},{"s":25,"t":470,"y":4.89},{"s":25,"t":480,"y":4.86},{"s":25,"t":486,"y":4.89},{"s":25,"t":500,"y":4.89},{"s":25,"t":515,"y":4.89},{"s":25,"t":527,"y":4.84},{"s":25,"t":533,"y":4.88},{"s":25,"t":540,"y":4.91},{"s":25,"t":548,"y":4.92},{"s":25,"t":560,"y":4.92},{"s":25,"t":575,"y":4.93},{"s":25,"t":590,"y":4.93},{"s":25,"t":600,"y":4.93},
{"s":26,"t":10.5,"y":5.12},{"s":26,"t":11.5,"y":5.06},{"s":26,"t":20,"y":5.06},{"s":26,"t":28,"y":5.05},{"s":26,"t":40,"y":5.06},{"s":26,"t":47,"y":5.06},{"s":26,"t":55,"y":5.06},{"s":26,"t":67,"y":5.04},{"s":26,"t":83,"y":5.04},{"s":26,"t":95,"y":5.06},{"s":26,"t":110,"y":5.06},{"s":26,"t":125,"y":5.06},{"s":26,"t":140,"y":5.06},{"s":26,"t":155,"y":5.06},{"s":26,"t":170,"y":5.06},{"s":26,"t":185,"y":5.06},{"s":26,"t":200,"y":5.05},{"s":26,"t":215,"y":5.06},{"s":26,"t":230,"y":5.06},{"s":26,"t":240,"y":5.07},{"s":26,"t":248,"y":5.11},{"s":26,"t":253,"y":5.12},{"s":26,"t":258,"y":5.11},{"s":26,"t":266,"y":5.115},{"s":26,"t":273,"y":5.11},{"s":26,"t":280.5,"y":5.07},{"s":26,"t":296,"y":5.07},{"s":26,"t":312,"y":5.07},{"s":26,"t":330,"y":5.07},{"s":26,"t":350,"y":5.07},{"s":26,"t":370,"y":5.07},{"s":26,"t":385,"y":5.07},{"s":26,"t":394.6,"y":5.04},{"s":26,"t":402,"y":5.07},{"s":26,"t":420,"y":5.07},{"s":26,"t":440,"y":5.07},{"s":26,"t":444.5,"y":5.03},{"s":26,"t":450,"y":5.07},{"s":26,"t":470,"y":5.07},{"s":26,"t":480,"y":5.05},{"s":26,"t":486,"y":5.07},{"s":26,"t":500,"y":5.07},{"s":26,"t":515,"y":5.07},{"s":26,"t":527,"y":5.03},{"s":26,"t":533,"y":5.07},{"s":26,"t":540,"y":5.1},{"s":26,"t":548,"y":5.11},{"s":26,"t":560,"y":5.11},{"s":26,"t":575,"y":5.12},{"s":26,"t":583,"y":5.13},{"s":26,"t":590,"y":5.12},{"s":26,"t":600,"y":5.12},
{"s":27,"t":10.5,"y":5.33},{"s":27,"t":11.5,"y":5.26},{"s":27,"t":20,"y":5.26},{"s":27,"t":28,"y":5.24},{"s":27,"t":35,"y":5.26},{"s":27,"t":47,"y":5.26},{"s":27,"t":55,"y":5.26},{"s":27,"t":67,"y":5.22},{"s":27,"t":72,"y":5.25},{"s":27,"t":83,"y":5.23},{"s":27,"t":90,"y":5.26},{"s":27,"t":105,"y":5.26},{"s":27,"t":120,"y":5.26},{"s":27,"t":135,"y":5.26},{"s":27,"t":150,"y":5.26},{"s":27,"t":165,"y":5.26},{"s":27,"t":180,"y":5.26},{"s":27,"t":195,"y":5.25},{"s":27,"t":200,"y":5.24},{"s":27,"t":215,"y":5.26},{"s":27,"t":230,"y":5.26},{"s":27,"t":240,"y":5.26},{"s":27,"t":248,"y":5.28},{"s":27,"t":253,"y":5.3},{"s":27,"t":258,"y":5.29},{"s":27,"t":266,"y":5.3},{"s":27,"t":273,"y":5.29},{"s":27,"t":280.5,"y":5.27},{"s":27,"t":296,"y":5.27},{"s":27,"t":312,"y":5.27},{"s":27,"t":330,"y":5.27},{"s":27,"t":350,"y":5.27},{"s":27,"t":370,"y":5.27},{"s":27,"t":385,"y":5.27},{"s":27,"t":394.6,"y":5.23},{"s":27,"t":402,"y":5.27},{"s":27,"t":420,"y":5.27},{"s":27,"t":445,"y":5.27},{"s":27,"t":465,"y":5.27},{"s":27,"t":480,"y":5.26},{"s":27,"t":490,"y":5.27},{"s":27,"t":499,"y":5.24},{"s":27,"t":505,"y":5.27},{"s":27,"t":515,"y":5.27},{"s":27,"t":527,"y":5.21},{"s":27,"t":533,"y":5.26},{"s":27,"t":540,"y":5.3},{"s":27,"t":548,"y":5.31},{"s":27,"t":560,"y":5.31},{"s":27,"t":575,"y":5.32},{"s":27,"t":583,"y":5.32},{"s":27,"t":590,"y":5.32},{"s":27,"t":600,"y":5.32},
{"s":28,"t":10.5,"y":5.5},{"s":28,"t":11.5,"y":5.43},{"s":28,"t":18,"y":5.43},{"s":28,"t":24,"y":5.43},{"s":28,"t":28,"y":5.4},{"s":28,"t":32,"y":5.43},{"s":28,"t":40,"y":5.43},{"s":28,"t":47,"y":5.43},{"s":28,"t":52,"y":5.43},{"s":28,"t":60,"y":5.43},{"s":28,"t":67,"y":5.4},{"s":28,"t":72,"y":5.42},{"s":28,"t":78,"y":5.42},{"s":28,"t":83,"y":5.36},{"s":28,"t":86,"y":5.41},{"s":28,"t":95,"y":5.43},{"s":28,"t":105,"y":5.43},{"s":28,"t":115,"y":5.43},{"s":28,"t":125,"y":5.43},{"s":28,"t":135,"y":5.43},{"s":28,"t":145,"y":5.43},{"s":28,"t":155,"y":5.43},{"s":28,"t":165,"y":5.44},{"s":28,"t":175,"y":5.43},{"s":28,"t":185,"y":5.43},{"s":28,"t":195,"y":5.43},{"s":28,"t":200,"y":5.41},{"s":28,"t":210,"y":5.43},{"s":28,"t":220,"y":5.43},{"s":28,"t":230,"y":5.43},{"s":28,"t":240,"y":5.44},{"s":28,"t":248,"y":5.46},{"s":28,"t":253,"y":5.49},{"s":28,"t":258,"y":5.47},{"s":28,"t":266,"y":5.48},{"s":28,"t":273,"y":5.47},{"s":28,"t":280.5,"y":5.46},{"s":28,"t":296,"y":5.46},{"s":28,"t":312,"y":5.46},{"s":28,"t":330,"y":5.46},{"s":28,"t":350,"y":5.46},{"s":28,"t":370,"y":5.46},{"s":28,"t":385,"y":5.46},{"s":28,"t":394.6,"y":5.41},{"s":28,"t":402,"y":5.46},{"s":28,"t":420,"y":5.46},{"s":28,"t":440,"y":5.46},{"s":28,"t":460,"y":5.46},{"s":28,"t":478,"y":5.46},{"s":28,"t":490,"y":5.46},{"s":28,"t":499,"y":5.42},{"s":28,"t":505,"y":5.45},{"s":28,"t":515,"y":5.45},{"s":28,"t":527,"y":5.39},{"s":28,"t":533,"y":5.44},{"s":28,"t":540,"y":5.48},{"s":28,"t":545,"y":5.5},{"s":28,"t":560,"y":5.5},{"s":28,"t":570,"y":5.49},{"s":28,"t":580,"y":5.5},{"s":28,"t":590,"y":5.5},{"s":28,"t":600,"y":5.5},
{"s":29,"t":10.5,"y":5.69},{"s":29,"t":11.5,"y":5.61},{"s":29,"t":18,"y":5.61},{"s":29,"t":24,"y":5.61},{"s":29,"t":28,"y":5.57},{"s":29,"t":32,"y":5.6},{"s":29,"t":40,"y":5.61},{"s":29,"t":47,"y":5.61},{"s":29,"t":52,"y":5.6},{"s":29,"t":60,"y":5.6},{"s":29,"t":67,"y":5.57},{"s":29,"t":72,"y":5.6},{"s":29,"t":78,"y":5.59},{"s":29,"t":83,"y":5.51},{"s":29,"t":86,"y":5.58},{"s":29,"t":95,"y":5.6},{"s":29,"t":105,"y":5.61},{"s":29,"t":115,"y":5.6},{"s":29,"t":125,"y":5.61},{"s":29,"t":135,"y":5.6},{"s":29,"t":145,"y":5.61},{"s":29,"t":155,"y":5.61},{"s":29,"t":165,"y":5.61},{"s":29,"t":175,"y":5.61},{"s":29,"t":185,"y":5.61},{"s":29,"t":195,"y":5.6},{"s":29,"t":200,"y":5.58},{"s":29,"t":210,"y":5.6},{"s":29,"t":220,"y":5.61},{"s":29,"t":230,"y":5.61},{"s":29,"t":240,"y":5.62},{"s":29,"t":248,"y":5.66},{"s":29,"t":253,"y":5.675},{"s":29,"t":258,"y":5.66},{"s":29,"t":266,"y":5.67},{"s":29,"t":273,"y":5.66},{"s":29,"t":280.5,"y":5.65},{"s":29,"t":296,"y":5.66},{"s":29,"t":312,"y":5.66},{"s":29,"t":330,"y":5.66},{"s":29,"t":350,"y":5.66},{"s":29,"t":370,"y":5.66},{"s":29,"t":385,"y":5.66},{"s":29,"t":394.6,"y":5.61},{"s":29,"t":402,"y":5.66},{"s":29,"t":420,"y":5.66},{"s":29,"t":440,"y":5.66},{"s":29,"t":460,"y":5.66},{"s":29,"t":478,"y":5.66},{"s":29,"t":487,"y":5.66},{"s":29,"t":487.7,"y":5.79},{"s":29,"t":488.5,"y":5.66},{"s":29,"t":494,"y":5.65},{"s":29,"t":499,"y":5.61},{"s":29,"t":505,"y":5.65},{"s":29,"t":515,"y":5.65},{"s":29,"t":527,"y":5.57},{"s":29,"t":533,"y":5.63},{"s":29,"t":540,"y":5.67},{"s":29,"t":545,"y":5.7},{"s":29,"t":550,"y":5.71},{"s":29,"t":560,"y":5.7},{"s":29,"t":570,"y":5.69},{"s":29,"t":577,"y":5.69},{"s":29,"t":578,"y":5.74},{"s":29,"t":579.5,"y":5.69},{"s":29,"t":581,"y":5.72},{"s":29,"t":582.5,"y":5.69},{"s":29,"t":590,"y":5.69},{"s":29,"t":600,"y":5.69},
{"s":30,"t":10.5,"y":5.87},{"s":30,"t":11.5,"y":5.79},{"s":30,"t":18,"y":5.79},{"s":30,"t":24,"y":5.78},{"s":30,"t":28,"y":5.73},{"s":30,"t":32,"y":5.78},{"s":30,"t":40,"y":5.79},{"s":30,"t":47,"y":5.79},{"s":30,"t":52,"y":5.78},{"s":30,"t":60,"y":5.78},{"s":30,"t":67,"y":5.76},{"s":30,"t":72,"y":5.78},{"s":30,"t":78,"y":5.77},{"s":30,"t":83,"y":5.68},{"s":30,"t":86,"y":5.76},{"s":30,"t":95,"y":5.78},{"s":30,"t":105,"y":5.78},{"s":30,"t":115,"y":5.77},{"s":30,"t":125,"y":5.78},{"s":30,"t":135,"y":5.77},{"s":30,"t":145,"y":5.78},{"s":30,"t":155,"y":5.78},{"s":30,"t":165,"y":5.79},{"s":30,"t":175,"y":5.78},{"s":30,"t":185,"y":5.78},{"s":30,"t":195,"y":5.77},{"s":30,"t":200,"y":5.75},{"s":30,"t":210,"y":5.77},{"s":30,"t":220,"y":5.78},{"s":30,"t":230,"y":5.78},{"s":30,"t":240,"y":5.79},{"s":30,"t":248,"y":5.83},{"s":30,"t":253,"y":5.85},{"s":30,"t":258,"y":5.83},{"s":30,"t":266,"y":5.84},{"s":30,"t":273,"y":5.83},{"s":30,"t":280.5,"y":5.82},{"s":30,"t":296,"y":5.82},{"s":30,"t":312,"y":5.83},{"s":30,"t":330,"y":5.83},{"s":30,"t":350,"y":5.83},{"s":30,"t":370,"y":5.83},{"s":30,"t":385,"y":5.83},{"s":30,"t":394.6,"y":5.8},{"s":30,"t":402,"y":5.83},{"s":30,"t":420,"y":5.84},{"s":30,"t":440,"y":5.84},{"s":30,"t":460,"y":5.84},{"s":30,"t":478,"y":5.85},{"s":30,"t":490,"y":5.84},{"s":30,"t":499,"y":5.8},{"s":30,"t":505,"y":5.83},{"s":30,"t":515,"y":5.83},{"s":30,"t":527,"y":5.76},{"s":30,"t":533,"y":5.82},{"s":30,"t":540,"y":5.86},{"s":30,"t":545,"y":5.89},{"s":30,"t":550,"y":5.9},{"s":30,"t":560,"y":5.89},{"s":30,"t":570,"y":5.88},{"s":30,"t":576,"y":5.89},{"s":30,"t":578,"y":6.04},{"s":30,"t":579.5,"y":5.9},{"s":30,"t":581,"y":6.0},{"s":30,"t":582.5,"y":5.89},{"s":30,"t":584,"y":6.03},{"s":30,"t":585.5,"y":5.89},{"s":30,"t":590,"y":5.88},{"s":30,"t":600,"y":5.89},
{"s":31,"t":10.5,"y":6.05},{"s":31,"t":11.5,"y":5.95},{"s":31,"t":18,"y":5.95},{"s":31,"t":24,"y":5.94},{"s":31,"t":28,"y":5.9},{"s":31,"t":33,"y":5.94},{"s":31,"t":40,"y":5.95},{"s":31,"t":47,"y":5.96},{"s":31,"t":52,"y":5.94},{"s":31,"t":60,"y":5.94},{"s":31,"t":67,"y":5.9},{"s":31,"t":72,"y":5.93},{"s":31,"t":78,"y":5.93},{"s":31,"t":83,"y":5.84},{"s":31,"t":86,"y":5.92},{"s":31,"t":95,"y":5.94},{"s":31,"t":105,"y":5.95},{"s":31,"t":115,"y":5.94},{"s":31,"t":125,"y":5.95},{"s":31,"t":135,"y":5.94},{"s":31,"t":145,"y":5.95},{"s":31,"t":155,"y":5.95},{"s":31,"t":165,"y":5.96},{"s":31,"t":175,"y":5.95},{"s":31,"t":185,"y":5.95},{"s":31,"t":195,"y":5.94},{"s":31,"t":200,"y":5.92},{"s":31,"t":210,"y":5.94},{"s":31,"t":220,"y":5.95},{"s":31,"t":230,"y":5.95},{"s":31,"t":240,"y":5.96},{"s":31,"t":248,"y":5.98},{"s":31,"t":253,"y":6.02},{"s":31,"t":258,"y":6.0},{"s":31,"t":266,"y":5.99},{"s":31,"t":273,"y":5.98},{"s":31,"t":280.5,"y":5.975},{"s":31,"t":282,"y":6.04},{"s":31,"t":300,"y":6.01},{"s":31,"t":310,"y":6.01},{"s":31,"t":330,"y":6.01},{"s":31,"t":350,"y":6.01},{"s":31,"t":370,"y":6.01},{"s":31,"t":385,"y":6.01},{"s":31,"t":394.6,"y":5.97},{"s":31,"t":402,"y":6.01},{"s":31,"t":420,"y":6.02},{"s":31,"t":440,"y":6.02},{"s":31,"t":460,"y":6.03},{"s":31,"t":478,"y":6.04},{"s":31,"t":490,"y":6.03},{"s":31,"t":499,"y":6.0},{"s":31,"t":505,"y":6.02},{"s":31,"t":515,"y":6.02},{"s":31,"t":527,"y":5.99},{"s":31,"t":533,"y":6.02},{"s":31,"t":540,"y":6.07},{"s":31,"t":545,"y":6.1},{"s":31,"t":549,"y":6.11},{"s":31,"t":556,"y":6.1},{"s":31,"t":566,"y":6.08},{"s":31,"t":572,"y":6.09},{"s":31,"t":578,"y":6.11},{"s":31,"t":583,"y":6.1},{"s":31,"t":590,"y":6.1},{"s":31,"t":600,"y":6.1},
{"s":32,"t":10.5,"y":6.17},{"s":32,"t":11.5,"y":6.1},{"s":32,"t":18,"y":6.1},{"s":32,"t":24,"y":6.09},{"s":32,"t":28,"y":6.08},{"s":32,"t":35,"y":6.09},{"s":32,"t":42,"y":6.09},{"s":32,"t":47,"y":6.1},{"s":32,"t":52,"y":6.09},{"s":32,"t":60,"y":6.09},{"s":32,"t":67,"y":6.04},{"s":32,"t":72,"y":6.08},{"s":32,"t":78,"y":6.07},{"s":32,"t":83,"y":6.0},{"s":32,"t":86,"y":6.07},{"s":32,"t":95,"y":6.08},{"s":32,"t":105,"y":6.09},{"s":32,"t":115,"y":6.08},{"s":32,"t":125,"y":6.09},{"s":32,"t":135,"y":6.08},{"s":32,"t":144,"y":6.07},{"s":32,"t":155,"y":6.09},{"s":32,"t":165,"y":6.1},{"s":32,"t":175,"y":6.09},{"s":32,"t":185,"y":6.09},{"s":32,"t":195,"y":6.08},{"s":32,"t":200,"y":6.06},{"s":32,"t":210,"y":6.08},{"s":32,"t":220,"y":6.09},{"s":32,"t":230,"y":6.09},{"s":32,"t":240,"y":6.1},{"s":32,"t":248,"y":6.12},{"s":32,"t":253,"y":6.135},{"s":32,"t":260,"y":6.12},{"s":32,"t":266,"y":6.13},{"s":32,"t":273,"y":6.12},{"s":32,"t":280.5,"y":6.11},{"s":32,"t":294,"y":6.13},{"s":32,"t":307,"y":6.145},{"s":32,"t":320,"y":6.15},{"s":32,"t":340,"y":6.15},{"s":32,"t":355,"y":6.14},{"s":32,"t":364,"y":6.11},{"s":32,"t":372,"y":6.14},{"s":32,"t":385,"y":6.15},{"s":32,"t":394.6,"y":6.1},{"s":32,"t":402,"y":6.14},{"s":32,"t":420,"y":6.15},{"s":32,"t":440,"y":6.16},{"s":32,"t":460,"y":6.17},{"s":32,"t":472,"y":6.19},{"s":32,"t":478,"y":6.2},{"s":32,"t":486,"y":6.18},{"s":32,"t":493,"y":6.15},{"s":32,"t":499,"y":6.12},{"s":32,"t":505,"y":6.15},{"s":32,"t":515,"y":6.15},{"s":32,"t":527,"y":6.11},{"s":32,"t":533,"y":6.15},{"s":32,"t":540,"y":6.22},{"s":32,"t":545,"y":6.27},{"s":32,"t":549,"y":6.3},{"s":32,"t":555,"y":6.29},{"s":32,"t":560,"y":6.28},{"s":32,"t":566,"y":6.27},{"s":32,"t":572,"y":6.28},{"s":32,"t":578,"y":6.3},{"s":32,"t":583,"y":6.29},{"s":32,"t":590,"y":6.29},{"s":32,"t":599,"y":6.29},{"s":32,"t":600,"y":6.21},
{"s":33,"t":10.5,"y":6.35},{"s":33,"t":11.5,"y":6.27},{"s":33,"t":18,"y":6.27},{"s":33,"t":24,"y":6.26},{"s":33,"t":28,"y":6.24},{"s":33,"t":34,"y":6.26},{"s":33,"t":42,"y":6.26},{"s":33,"t":47,"y":6.27},{"s":33,"t":52,"y":6.25},{"s":33,"t":60,"y":6.25},{"s":33,"t":67,"y":6.22},{"s":33,"t":72,"y":6.24},{"s":33,"t":78,"y":6.24},{"s":33,"t":83,"y":6.2},{"s":33,"t":86,"y":6.23},{"s":33,"t":95,"y":6.24},{"s":33,"t":105,"y":6.23},{"s":33,"t":115,"y":6.23},{"s":33,"t":125,"y":6.23},{"s":33,"t":135,"y":6.23},{"s":33,"t":144,"y":6.22},{"s":33,"t":150,"y":6.24},{"s":33,"t":160,"y":6.24},{"s":33,"t":170,"y":6.24},{"s":33,"t":180,"y":6.23},{"s":33,"t":190,"y":6.23},{"s":33,"t":200,"y":6.22},{"s":33,"t":210,"y":6.23},{"s":33,"t":220,"y":6.23},{"s":33,"t":230,"y":6.22},{"s":33,"t":240,"y":6.23},{"s":33,"t":248,"y":6.29},{"s":33,"t":253,"y":6.32},{"s":33,"t":258,"y":6.3},{"s":33,"t":266,"y":6.31},{"s":33,"t":273,"y":6.3},{"s":33,"t":280.5,"y":6.29},{"s":33,"t":294,"y":6.31},{"s":33,"t":307,"y":6.34},{"s":33,"t":320,"y":6.33},{"s":33,"t":340,"y":6.33},{"s":33,"t":360,"y":6.33},{"s":33,"t":380,"y":6.34},{"s":33,"t":390,"y":6.34},{"s":33,"t":394.6,"y":6.3},{"s":33,"t":400,"y":6.34},{"s":33,"t":415,"y":6.35},{"s":33,"t":435,"y":6.36},{"s":33,"t":455,"y":6.37},{"s":33,"t":470,"y":6.37},{"s":33,"t":478,"y":6.39},{"s":33,"t":486,"y":6.37},{"s":33,"t":493,"y":6.35},{"s":33,"t":499,"y":6.32},{"s":33,"t":505,"y":6.35},{"s":33,"t":515,"y":6.35},{"s":33,"t":527,"y":6.32},{"s":33,"t":533,"y":6.36},{"s":33,"t":540,"y":6.42},{"s":33,"t":545,"y":6.48},{"s":33,"t":549,"y":6.51},{"s":33,"t":555,"y":6.49},{"s":33,"t":560,"y":6.47},{"s":33,"t":566,"y":6.42},{"s":33,"t":572,"y":6.45},{"s":33,"t":578,"y":6.48},{"s":33,"t":583,"y":6.46},{"s":33,"t":588,"y":6.45},{"s":33,"t":594,"y":6.46},{"s":33,"t":600,"y":6.45},
{"s":34,"t":10.5,"y":6.45},{"s":34,"t":11.5,"y":6.38},{"s":34,"t":16,"y":6.38},{"s":34,"t":22,"y":6.37},{"s":34,"t":28,"y":6.36},{"s":34,"t":35,"y":6.37},{"s":34,"t":42,"y":6.37},{"s":34,"t":47,"y":6.38},{"s":34,"t":52,"y":6.36},{"s":34,"t":60,"y":6.35},{"s":34,"t":67,"y":6.33},{"s":34,"t":72,"y":6.35},{"s":34,"t":78,"y":6.34},{"s":34,"t":83,"y":6.29},{"s":34,"t":86,"y":6.34},{"s":34,"t":95,"y":6.35},{"s":34,"t":105,"y":6.35},{"s":34,"t":115,"y":6.35},{"s":34,"t":125,"y":6.35},{"s":34,"t":135,"y":6.35},{"s":34,"t":144,"y":6.34},{"s":34,"t":155,"y":6.36},{"s":34,"t":165,"y":6.37},{"s":34,"t":175,"y":6.37},{"s":34,"t":185,"y":6.36},{"s":34,"t":195,"y":6.36},{"s":34,"t":205,"y":6.35},{"s":34,"t":215,"y":6.35},{"s":34,"t":223,"y":6.35},{"s":34,"t":235,"y":6.37},{"s":34,"t":248,"y":6.4},{"s":34,"t":260,"y":6.42},{"s":34,"t":270,"y":6.44},{"s":34,"t":280.5,"y":6.45},{"s":34,"t":295,"y":6.47},{"s":34,"t":307,"y":6.48},{"s":34,"t":320,"y":6.46},{"s":34,"t":340,"y":6.45},{"s":34,"t":360,"y":6.45},{"s":34,"t":380,"y":6.45},{"s":34,"t":390,"y":6.45},{"s":34,"t":394.6,"y":6.42},{"s":34,"t":400,"y":6.45},{"s":34,"t":415,"y":6.46},{"s":34,"t":435,"y":6.47},{"s":34,"t":455,"y":6.48},{"s":34,"t":470,"y":6.49},{"s":34,"t":478,"y":6.52},{"s":34,"t":486,"y":6.49},{"s":34,"t":493,"y":6.47},{"s":34,"t":499,"y":6.44},{"s":34,"t":505,"y":6.46},{"s":34,"t":515,"y":6.46},{"s":34,"t":527,"y":6.43},{"s":34,"t":533,"y":6.46},{"s":34,"t":538,"y":6.52},{"s":34,"t":543,"y":6.6},{"s":34,"t":549,"y":6.7},{"s":34,"t":554,"y":6.68},{"s":34,"t":560,"y":6.64},{"s":34,"t":566,"y":6.61},{"s":34,"t":572,"y":6.65},{"s":34,"t":578,"y":6.68},{"s":34,"t":583,"y":6.65},{"s":34,"t":588,"y":6.64},{"s":34,"t":594,"y":6.65},{"s":34,"t":600,"y":6.64},
{"s":35,"t":10.5,"y":6.62},{"s":35,"t":11.5,"y":6.55},{"s":35,"t":16,"y":6.55},{"s":35,"t":22,"y":6.55},{"s":35,"t":28,"y":6.53},{"s":35,"t":33,"y":6.55},{"s":35,"t":40,"y":6.55},{"s":35,"t":47,"y":6.58},{"s":35,"t":50,"y":6.55},{"s":35,"t":57,"y":6.54},{"s":35,"t":63,"y":6.53},{"s":35,"t":67,"y":6.51},{"s":35,"t":72,"y":6.52},{"s":35,"t":78,"y":6.51},{"s":35,"t":83,"y":6.44},{"s":35,"t":86,"y":6.5},{"s":35,"t":95,"y":6.5},{"s":35,"t":105,"y":6.5},{"s":35,"t":115,"y":6.5},{"s":35,"t":125,"y":6.5},{"s":35,"t":135,"y":6.51},{"s":35,"t":144,"y":6.51},{"s":35,"t":150,"y":6.54},{"s":35,"t":158,"y":6.56},{"s":35,"t":165,"y":6.57},{"s":35,"t":175,"y":6.56},{"s":35,"t":185,"y":6.56},{"s":35,"t":195,"y":6.55},{"s":35,"t":200,"y":6.52},{"s":35,"t":210,"y":6.53},{"s":35,"t":220,"y":6.52},{"s":35,"t":229,"y":6.51},{"s":35,"t":238,"y":6.53},{"s":35,"t":246,"y":6.54},{"s":35,"t":253,"y":6.55},{"s":35,"t":262,"y":6.57},{"s":35,"t":272,"y":6.59},{"s":35,"t":280.5,"y":6.6},{"s":35,"t":290,"y":6.61},{"s":35,"t":300,"y":6.62},{"s":35,"t":315,"y":6.63},{"s":35,"t":330,"y":6.62},{"s":35,"t":350,"y":6.61},{"s":35,"t":369,"y":6.6},{"s":35,"t":384,"y":6.59},{"s":35,"t":394.6,"y":6.57},{"s":35,"t":400,"y":6.61},{"s":35,"t":410,"y":6.63},{"s":35,"t":430,"y":6.63},{"s":35,"t":450,"y":6.63},{"s":35,"t":465,"y":6.64},{"s":35,"t":478,"y":6.7},{"s":35,"t":485,"y":6.67},{"s":35,"t":492,"y":6.66},{"s":35,"t":499,"y":6.62},{"s":35,"t":505,"y":6.65},{"s":35,"t":515,"y":6.65},{"s":35,"t":527,"y":6.62},{"s":35,"t":532,"y":6.65},{"s":35,"t":538,"y":6.7},{"s":35,"t":543,"y":6.8},{"s":35,"t":549,"y":6.9},{"s":35,"t":553,"y":6.88},{"s":35,"t":558,"y":6.84},{"s":35,"t":563,"y":6.8},{"s":35,"t":566,"y":6.78},{"s":35,"t":572,"y":6.83},{"s":35,"t":578,"y":6.88},{"s":35,"t":583,"y":6.84},{"s":35,"t":588,"y":6.82},{"s":35,"t":594,"y":6.83},{"s":35,"t":600,"y":6.83},
{"s":36,"t":10.5,"y":6.8},{"s":36,"t":11.5,"y":6.72},{"s":36,"t":16,"y":6.72},{"s":36,"t":21,"y":6.72},{"s":36,"t":28,"y":6.7},{"s":36,"t":33,"y":6.72},{"s":36,"t":40,"y":6.72},{"s":36,"t":47,"y":6.74},{"s":36,"t":50,"y":6.71},{"s":36,"t":57,"y":6.71},{"s":36,"t":63,"y":6.7},{"s":36,"t":67,"y":6.68},{"s":36,"t":72,"y":6.7},{"s":36,"t":78,"y":6.69},{"s":36,"t":83,"y":6.61},{"s":36,"t":86,"y":6.67},{"s":36,"t":95,"y":6.67},{"s":36,"t":105,"y":6.67},{"s":36,"t":115,"y":6.67},{"s":36,"t":125,"y":6.66},{"s":36,"t":135,"y":6.67},{"s":36,"t":145,"y":6.67},{"s":36,"t":154,"y":6.69},{"s":36,"t":162,"y":6.71},{"s":36,"t":170,"y":6.72},{"s":36,"t":178,"y":6.73},{"s":36,"t":185,"y":6.73},{"s":36,"t":192,"y":6.72},{"s":36,"t":200,"y":6.71},{"s":36,"t":210,"y":6.7},{"s":36,"t":218,"y":6.7},{"s":36,"t":229,"y":6.68},{"s":36,"t":238,"y":6.7},{"s":36,"t":246,"y":6.71},{"s":36,"t":255,"y":6.72},{"s":36,"t":262,"y":6.72},{"s":36,"t":269,"y":6.73},{"s":36,"t":275,"y":6.74},{"s":36,"t":280.5,"y":6.74},{"s":36,"t":290,"y":6.77},{"s":36,"t":303,"y":6.81},{"s":36,"t":310,"y":6.81},{"s":36,"t":318,"y":6.81},{"s":36,"t":327,"y":6.77},{"s":36,"t":340,"y":6.77},{"s":36,"t":355,"y":6.77},{"s":36,"t":370,"y":6.77},{"s":36,"t":384,"y":6.78},{"s":36,"t":394.6,"y":6.755},{"s":36,"t":400,"y":6.79},{"s":36,"t":410,"y":6.81},{"s":36,"t":423,"y":6.82},{"s":36,"t":440,"y":6.82},{"s":36,"t":460,"y":6.82},{"s":36,"t":478,"y":6.86},{"s":36,"t":490,"y":6.82},{"s":36,"t":499,"y":6.79},{"s":36,"t":505,"y":6.81},{"s":36,"t":515,"y":6.81},{"s":36,"t":527,"y":6.81},{"s":36,"t":533,"y":6.84},{"s":36,"t":538,"y":6.87},{"s":36,"t":544,"y":6.93},{"s":36,"t":548,"y":6.98},{"s":36,"t":552,"y":7.06},{"s":36,"t":556,"y":7.05},{"s":36,"t":560,"y":7.04},{"s":36,"t":564,"y":6.98},{"s":36,"t":567,"y":6.94},{"s":36,"t":572,"y":6.98},{"s":36,"t":577,"y":7.02},{"s":36,"t":581,"y":7.04},{"s":36,"t":586,"y":7.02},{"s":36,"t":591,"y":7.01},{"s":36,"t":596,"y":7.01},{"s":36,"t":600,"y":7.0},
{"s":37,"t":10.5,"y":7.0},{"s":37,"t":11.5,"y":6.93},{"s":37,"t":16,"y":6.92},{"s":37,"t":21,"y":6.91},{"s":37,"t":25,"y":6.9},{"s":37,"t":29,"y":6.89},{"s":37,"t":34,"y":6.9},{"s":37,"t":39,"y":6.91},{"s":37,"t":43,"y":6.9},{"s":37,"t":46,"y":6.94},{"s":37,"t":48,"y":6.92},{"s":37,"t":52,"y":6.9},{"s":37,"t":57,"y":6.89},{"s":37,"t":63.5,"y":6.87},{"s":37,"t":66.7,"y":6.84},{"s":37,"t":70,"y":6.86},{"s":37,"t":75,"y":6.86},{"s":37,"t":80,"y":6.85},{"s":37,"t":82.8,"y":6.8},{"s":37,"t":85,"y":6.85},{"s":37,"t":92,"y":6.85},{"s":37,"t":100,"y":6.84},{"s":37,"t":108,"y":6.83},{"s":37,"t":115,"y":6.84},{"s":37,"t":125,"y":6.84},{"s":37,"t":135,"y":6.83},{"s":37,"t":145,"y":6.85},{"s":37,"t":154,"y":6.86},{"s":37,"t":160,"y":6.89},{"s":37,"t":165,"y":6.93},{"s":37,"t":170,"y":6.92},{"s":37,"t":178,"y":6.91},{"s":37,"t":188,"y":6.9},{"s":37,"t":195,"y":6.89},{"s":37,"t":205,"y":6.88},{"s":37,"t":210,"y":6.85},{"s":37,"t":215,"y":6.87},{"s":37,"t":225,"y":6.87},{"s":37,"t":235,"y":6.88},{"s":37,"t":245,"y":6.87},{"s":37,"t":255,"y":6.88},{"s":37,"t":265,"y":6.88},{"s":37,"t":272,"y":6.89},{"s":37,"t":277,"y":6.9},{"s":37,"t":280.5,"y":6.89},{"s":37,"t":282,"y":6.84},{"s":37,"t":290,"y":6.88},{"s":37,"t":296,"y":6.92},{"s":37,"t":300,"y":6.94},{"s":37,"t":310,"y":6.95},{"s":37,"t":320,"y":6.95},{"s":37,"t":328,"y":6.94},{"s":37,"t":331,"y":6.9},{"s":37,"t":340,"y":6.9},{"s":37,"t":355,"y":6.9},{"s":37,"t":370,"y":6.9},{"s":37,"t":385,"y":6.9},{"s":37,"t":396,"y":6.91},{"s":37,"t":405,"y":6.96},{"s":37,"t":420,"y":6.97},{"s":37,"t":435,"y":6.98},{"s":37,"t":454,"y":6.99},{"s":37,"t":470,"y":6.99},{"s":37,"t":485,"y":6.99},{"s":37,"t":495,"y":6.98},{"s":37,"t":501,"y":6.95},{"s":37,"t":510,"y":6.97},{"s":37,"t":525,"y":6.98},{"s":37,"t":540,"y":6.98},{"s":37,"t":545,"y":7.03},{"s":37,"t":548,"y":7.09},{"s":37,"t":552,"y":7.245},{"s":37,"t":556,"y":7.23},{"s":37,"t":560,"y":7.23},{"s":37,"t":564,"y":7.16},{"s":37,"t":567,"y":7.11},{"s":37,"t":572,"y":7.16},{"s":37,"t":577,"y":7.21},{"s":37,"t":581,"y":7.23},{"s":37,"t":586,"y":7.21},{"s":37,"t":591,"y":7.2},{"s":37,"t":596,"y":7.19},{"s":37,"t":600,"y":7.18},
{"s":38,"t":10.5,"y":7.35},{"s":38,"t":11.5,"y":7.19},{"s":38,"t":15,"y":7.18},{"s":38,"t":20,"y":7.17},{"s":38,"t":25,"y":7.13},{"s":38,"t":29,"y":7.16},{"s":38,"t":34,"y":7.17},{"s":38,"t":39,"y":7.16},{"s":38,"t":43,"y":7.17},{"s":38,"t":46,"y":7.22},{"s":38,"t":48,"y":7.18},{"s":38,"t":52,"y":7.16},{"s":38,"t":57,"y":7.14},{"s":38,"t":63.5,"y":7.1},{"s":38,"t":66.3,"y":7.01},{"s":38,"t":69.3,"y":7.06},{"s":38,"t":75,"y":7.08},{"s":38,"t":81,"y":7.09},{"s":38,"t":82.8,"y":7.04},{"s":38,"t":86,"y":7.07},{"s":38,"t":92,"y":7.08},{"s":38,"t":100,"y":7.07},{"s":38,"t":106,"y":7.08},{"s":38,"t":110,"y":7.04},{"s":38,"t":115,"y":7.07},{"s":38,"t":122,"y":7.06},{"s":38,"t":130,"y":7.07},{"s":38,"t":135,"y":7.05},{"s":38,"t":142,"y":7.04},{"s":38,"t":148,"y":7.06},{"s":38,"t":154,"y":7.09},{"s":38,"t":160,"y":7.12},{"s":38,"t":165,"y":7.14},{"s":38,"t":169,"y":7.17},{"s":38,"t":173,"y":7.16},{"s":38,"t":177,"y":7.15},{"s":38,"t":184,"y":7.15},{"s":38,"t":192,"y":7.14},{"s":38,"t":198,"y":7.14},{"s":38,"t":200,"y":7.11},{"s":38,"t":208,"y":7.1},{"s":38,"t":215,"y":7.11},{"s":38,"t":225,"y":7.1},{"s":38,"t":235,"y":7.11},{"s":38,"t":245,"y":7.1},{"s":38,"t":255,"y":7.11},{"s":38,"t":265,"y":7.1},{"s":38,"t":272,"y":7.12},{"s":38,"t":277,"y":7.13},{"s":38,"t":280.5,"y":7.12},{"s":38,"t":282,"y":7.16},{"s":38,"t":290,"y":7.18},{"s":38,"t":298,"y":7.195},{"s":38,"t":310,"y":7.2},{"s":38,"t":321,"y":7.195},{"s":38,"t":327,"y":7.16},{"s":38,"t":331,"y":7.15},{"s":38,"t":340,"y":7.15},{"s":38,"t":350,"y":7.16},{"s":38,"t":360,"y":7.15},{"s":38,"t":370,"y":7.15},{"s":38,"t":380,"y":7.16},{"s":38,"t":390,"y":7.15},{"s":38,"t":396,"y":7.14},{"s":38,"t":407,"y":7.19},{"s":38,"t":420,"y":7.2},{"s":38,"t":435,"y":7.21},{"s":38,"t":454,"y":7.22},{"s":38,"t":470,"y":7.22},{"s":38,"t":481,"y":7.22},{"s":38,"t":492,"y":7.21},{"s":38,"t":497,"y":7.19},{"s":38,"t":501,"y":7.16},{"s":38,"t":506,"y":7.18},{"s":38,"t":513,"y":7.2},{"s":38,"t":525,"y":7.2},{"s":38,"t":540,"y":7.2},{"s":38,"t":545,"y":7.24},{"s":38,"t":548,"y":7.3},{"s":38,"t":552,"y":7.5},{"s":38,"t":556,"y":7.48},{"s":38,"t":560,"y":7.465},{"s":38,"t":564,"y":7.39},{"s":38,"t":567,"y":7.32},{"s":38,"t":572,"y":7.38},{"s":38,"t":577,"y":7.42},{"s":38,"t":581,"y":7.45},{"s":38,"t":586,"y":7.44},{"s":38,"t":591,"y":7.44},{"s":38,"t":596,"y":7.44},{"s":38,"t":600,"y":7.43},
{"s":39,"t":10.5,"y":7.64},{"s":39,"t":12,"y":7.47},{"s":39,"t":16,"y":7.46},{"s":39,"t":20,"y":7.45},{"s":39,"t":25,"y":7.38},{"s":39,"t":29,"y":7.44},{"s":39,"t":34,"y":7.45},{"s":39,"t":39,"y":7.44},{"s":39,"t":43,"y":7.45},{"s":39,"t":46,"y":7.48},{"s":39,"t":50,"y":7.43},{"s":39,"t":54,"y":7.42},{"s":39,"t":58,"y":7.4},{"s":39,"t":63.5,"y":7.38},{"s":39,"t":66.3,"y":7.11},{"s":39,"t":67.4,"y":7.18},{"s":39,"t":69.3,"y":7.28},{"s":39,"t":73,"y":7.33},{"s":39,"t":81,"y":7.37},{"s":39,"t":88,"y":7.38},{"s":39,"t":94,"y":7.36},{"s":39,"t":100,"y":7.37},{"s":39,"t":106,"y":7.35},{"s":39,"t":108,"y":7.28},{"s":39,"t":112,"y":7.33},{"s":39,"t":115,"y":7.35},{"s":39,"t":120,"y":7.34},{"s":39,"t":126,"y":7.35},{"s":39,"t":131,"y":7.32},{"s":39,"t":135,"y":7.28},{"s":39,"t":139,"y":7.31},{"s":39,"t":142,"y":7.23},{"s":39,"t":146,"y":7.29},{"s":39,"t":152,"y":7.3},{"s":39,"t":157,"y":7.33},{"s":39,"t":163,"y":7.34},{"s":39,"t":169,"y":7.43},{"s":39,"t":173,"y":7.4},{"s":39,"t":177,"y":7.39},{"s":39,"t":182,"y":7.41},{"s":39,"t":187,"y":7.4},{"s":39,"t":192,"y":7.4},{"s":39,"t":198,"y":7.38},{"s":39,"t":200,"y":7.28},{"s":39,"t":204,"y":7.34},{"s":39,"t":208,"y":7.37},{"s":39,"t":212,"y":7.29},{"s":39,"t":217,"y":7.27},{"s":39,"t":222,"y":7.26},{"s":39,"t":227,"y":7.25},{"s":39,"t":231,"y":7.24},{"s":39,"t":236,"y":7.26},{"s":39,"t":241,"y":7.23},{"s":39,"t":246,"y":7.24},{"s":39,"t":250,"y":7.17},{"s":39,"t":254,"y":7.22},{"s":39,"t":258,"y":7.24},{"s":39,"t":263,"y":7.23},{"s":39,"t":269,"y":7.24},{"s":39,"t":273,"y":7.25},{"s":39,"t":277,"y":7.3},{"s":39,"t":280.5,"y":7.17},{"s":39,"t":282,"y":7.38},{"s":39,"t":290,"y":7.41},{"s":39,"t":298,"y":7.43},{"s":39,"t":302,"y":7.37},{"s":39,"t":307,"y":7.41},{"s":39,"t":313,"y":7.42},{"s":39,"t":318,"y":7.42},{"s":39,"t":322,"y":7.38},{"s":39,"t":327,"y":7.35},{"s":39,"t":333,"y":7.33},{"s":39,"t":340,"y":7.34},{"s":39,"t":350,"y":7.34},{"s":39,"t":360,"y":7.35},{"s":39,"t":370,"y":7.34},{"s":39,"t":380,"y":7.35},{"s":39,"t":388,"y":7.34},{"s":39,"t":392,"y":7.31},{"s":39,"t":397,"y":7.35},{"s":39,"t":407,"y":7.38},{"s":39,"t":415,"y":7.38},{"s":39,"t":425,"y":7.39},{"s":39,"t":435,"y":7.4},{"s":39,"t":445,"y":7.41},{"s":39,"t":454,"y":7.45},{"s":39,"t":462,"y":7.45},{"s":39,"t":472,"y":7.46},{"s":39,"t":482,"y":7.45},{"s":39,"t":493,"y":7.45},{"s":39,"t":497,"y":7.42},{"s":39,"t":501,"y":7.35},{"s":39,"t":505,"y":7.4},{"s":39,"t":509,"y":7.43},{"s":39,"t":520,"y":7.44},{"s":39,"t":530,"y":7.43},{"s":39,"t":540,"y":7.43},{"s":39,"t":545,"y":7.47},{"s":39,"t":548,"y":7.53},{"s":39,"t":552,"y":7.73},{"s":39,"t":556,"y":7.71},{"s":39,"t":560,"y":7.71},{"s":39,"t":564,"y":7.63},{"s":39,"t":567,"y":7.55},{"s":39,"t":571,"y":7.59},{"s":39,"t":575,"y":7.6},{"s":39,"t":578,"y":7.66},{"s":39,"t":581,"y":7.7},{"s":39,"t":586,"y":7.68},{"s":39,"t":591,"y":7.685},{"s":39,"t":596,"y":7.67},{"s":39,"t":600,"y":7.66},
{"s":40,"t":10.5,"y":7.93},{"s":40,"t":13,"y":7.87},{"s":40,"t":17,"y":7.86},{"s":40,"t":21,"y":7.85},{"s":40,"t":25,"y":7.76},{"s":40,"t":29,"y":7.84},{"s":40,"t":34,"y":7.86},{"s":40,"t":39,"y":7.85},{"s":40,"t":43,"y":7.87},{"s":40,"t":46,"y":7.88},{"s":40,"t":50,"y":7.86},{"s":40,"t":55,"y":7.85},{"s":40,"t":60,"y":7.83},{"s":40,"t":63.5,"y":7.8},{"s":40,"t":66.3,"y":7.5},{"s":40,"t":68,"y":7.62},{"s":40,"t":70,"y":7.7},{"s":40,"t":77,"y":7.77},{"s":40,"t":86.6,"y":7.78},{"s":40,"t":92,"y":7.77},{"s":40,"t":97,"y":7.79},{"s":40,"t":102,"y":7.76},{"s":40,"t":108,"y":7.65},{"s":40,"t":112,"y":7.75},{"s":40,"t":117,"y":7.77},{"s":40,"t":122,"y":7.76},{"s":40,"t":128,"y":7.78},{"s":40,"t":133,"y":7.75},{"s":40,"t":137,"y":7.64},{"s":40,"t":141,"y":7.66},{"s":40,"t":145,"y":7.74},{"s":40,"t":149,"y":7.76},{"s":40,"t":152,"y":7.7},{"s":40,"t":156,"y":7.77},{"s":40,"t":160,"y":7.79},{"s":40,"t":163,"y":7.8},{"s":40,"t":168,"y":7.82},{"s":40,"t":173,"y":7.85},{"s":40,"t":178,"y":7.82},{"s":40,"t":183,"y":7.84},{"s":40,"t":188,"y":7.82},{"s":40,"t":193,"y":7.83},{"s":40,"t":197,"y":7.8},{"s":40,"t":200,"y":7.61},{"s":40,"t":204,"y":7.75},{"s":40,"t":208,"y":7.82},{"s":40,"t":213,"y":7.76},{"s":40,"t":218,"y":7.74},{"s":40,"t":223,"y":7.77},{"s":40,"t":229,"y":7.65},{"s":40,"t":233,"y":7.74},{"s":40,"t":238,"y":7.76},{"s":40,"t":242,"y":7.8},{"s":40,"t":246,"y":7.72},{"s":40,"t":250,"y":7.75},{"s":40,"t":254,"y":7.71},{"s":40,"t":258,"y":7.74},{"s":40,"t":262,"y":7.72},{"s":40,"t":265,"y":7.69},{"s":40,"t":269,"y":7.74},{"s":40,"t":273,"y":7.73},{"s":40,"t":277,"y":7.8},{"s":40,"t":280.5,"y":7.74},{"s":40,"t":281.5,"y":7.57},{"s":40,"t":286,"y":7.61},{"s":40,"t":291,"y":7.64},{"s":40,"t":296,"y":7.66},{"s":40,"t":300,"y":7.68},{"s":40,"t":301.5,"y":7.82},{"s":40,"t":304,"y":7.79},{"s":40,"t":307,"y":7.69},{"s":40,"t":309,"y":7.84},{"s":40,"t":313,"y":7.79},{"s":40,"t":318,"y":7.77},{"s":40,"t":323,"y":7.79},{"s":40,"t":328,"y":7.76},{"s":40,"t":333,"y":7.79},{"s":40,"t":339,"y":7.77},{"s":40,"t":345,"y":7.79},{"s":40,"t":351,"y":7.76},{"s":40,"t":357,"y":7.78},{"s":40,"t":363,"y":7.77},{"s":40,"t":369,"y":7.79},{"s":40,"t":375,"y":7.76},{"s":40,"t":381,"y":7.78},{"s":40,"t":387,"y":7.77},{"s":40,"t":393,"y":7.79},{"s":40,"t":399,"y":7.77},{"s":40,"t":405,"y":7.78},{"s":40,"t":411,"y":7.76},{"s":40,"t":417,"y":7.79},{"s":40,"t":423,"y":7.77},{"s":40,"t":429,"y":7.78},{"s":40,"t":436,"y":7.77},{"s":40,"t":444,"y":7.79},{"s":40,"t":452,"y":7.77},{"s":40,"t":460,"y":7.78},{"s":40,"t":468,"y":7.77},{"s":40,"t":476,"y":7.78},{"s":40,"t":484,"y":7.77},{"s":40,"t":493,"y":7.76},{"s":40,"t":501,"y":7.68},{"s":40,"t":507,"y":7.74},{"s":40,"t":513,"y":7.78},{"s":40,"t":522,"y":7.79},{"s":40,"t":532,"y":7.8},{"s":40,"t":542,"y":7.82},{"s":40,"t":547,"y":7.86},{"s":40,"t":552,"y":8.01},{"s":40,"t":556,"y":7.99},{"s":40,"t":560,"y":8.02},{"s":40,"t":564,"y":7.95},{"s":40,"t":567,"y":7.89},{"s":40,"t":572,"y":7.93},{"s":40,"t":577,"y":7.97},{"s":40,"t":581,"y":7.99},{"s":40,"t":586,"y":7.98},{"s":40,"t":591,"y":8.0},{"s":40,"t":596,"y":7.98},{"s":40,"t":600,"y":7.96},
{"s":41,"t":10.5,"y":8.16},{"s":41,"t":14,"y":8.11},{"s":41,"t":18,"y":8.1},{"s":41,"t":22,"y":8.09},{"s":41,"t":25,"y":8.03},{"s":41,"t":29,"y":8.09},{"s":41,"t":34,"y":8.1},{"s":41,"t":39,"y":8.12},{"s":41,"t":44,"y":8.1},{"s":41,"t":49,"y":8.09},{"s":41,"t":54,"y":8.1},{"s":41,"t":59,"y":8.08},{"s":41,"t":63.5,"y":8.06},{"s":41,"t":66.3,"y":7.62},{"s":41,"t":67.5,"y":7.8},{"s":41,"t":69,"y":7.92},{"s":41,"t":71.3,"y":7.99},{"s":41,"t":77,"y":8.05},{"s":41,"t":86.6,"y":8.06},{"s":41,"t":92,"y":8.08},{"s":41,"t":97,"y":8.07},{"s":41,"t":102,"y":8.08},{"s":41,"t":108,"y":7.99},{"s":41,"t":112,"y":8.06},{"s":41,"t":117,"y":8.08},{"s":41,"t":122,"y":8.07},{"s":41,"t":128,"y":8.09},{"s":41,"t":133,"y":8.07},{"s":41,"t":137,"y":8.05},{"s":41,"t":141,"y":7.93},{"s":41,"t":145,"y":8.03},{"s":41,"t":149,"y":8.05},{"s":41,"t":152,"y":7.95},{"s":41,"t":156,"y":8.04},{"s":41,"t":160,"y":8.08},{"s":41,"t":163,"y":8.14},{"s":41,"t":168,"y":8.11},{"s":41,"t":173,"y":8.1},{"s":41,"t":178,"y":8.12},{"s":41,"t":183,"y":8.1},{"s":41,"t":188,"y":8.11},{"s":41,"t":193,"y":8.1},{"s":41,"t":197,"y":8.09},{"s":41,"t":200,"y":7.94},{"s":41,"t":203,"y":8.04},{"s":41,"t":206,"y":8.12},{"s":41,"t":210,"y":8.07},{"s":41,"t":215,"y":8.06},{"s":41,"t":220,"y":8.08},{"s":41,"t":225,"y":8.06},{"s":41,"t":229,"y":8.01},{"s":41,"t":233,"y":8.07},{"s":41,"t":238,"y":8.05},{"s":41,"t":242,"y":8.0},{"s":41,"t":246,"y":8.07},{"s":41,"t":250,"y":8.02},{"s":41,"t":254,"y":8.06},{"s":41,"t":258,"y":8.08},{"s":41,"t":262,"y":8.05},{"s":41,"t":265,"y":8.0},{"s":41,"t":269,"y":8.07},{"s":41,"t":273,"y":8.06},{"s":41,"t":277,"y":8.15},{"s":41,"t":280,"y":8.04},{"s":41,"t":282,"y":7.97},{"s":41,"t":286,"y":8.03},{"s":41,"t":290,"y":8.08},{"s":41,"t":295,"y":8.12},{"s":41,"t":299,"y":8.13},{"s":41,"t":303,"y":8.1},{"s":41,"t":307,"y":8.2},{"s":41,"t":310,"y":8.11},{"s":41,"t":315,"y":8.1},{"s":41,"t":320,"y":8.12},{"s":41,"t":325,"y":8.1},{"s":41,"t":330,"y":8.11},{"s":41,"t":336,"y":8.09},{"s":41,"t":342,"y":8.12},{"s":41,"t":348,"y":8.1},{"s":41,"t":354,"y":8.11},{"s":41,"t":360,"y":8.09},{"s":41,"t":366,"y":8.12},{"s":41,"t":372,"y":8.1},{"s":41,"t":378,"y":8.11},{"s":41,"t":384,"y":8.09},{"s":41,"t":390,"y":8.11},{"s":41,"t":396,"y":8.1},{"s":41,"t":402,"y":8.12},{"s":41,"t":408,"y":8.1},{"s":41,"t":414,"y":8.11},{"s":41,"t":420,"y":8.1},{"s":41,"t":426,"y":8.12},{"s":41,"t":432,"y":8.1},{"s":41,"t":440,"y":8.09},{"s":41,"t":446,"y":8.04},{"s":41,"t":452,"y":8.1},{"s":41,"t":460,"y":8.11},{"s":41,"t":468,"y":8.1},{"s":41,"t":476,"y":8.11},{"s":41,"t":484,"y":8.1},{"s":41,"t":492,"y":8.08},{"s":41,"t":497,"y":8.05},{"s":41,"t":501,"y":8.0},{"s":41,"t":506,"y":8.06},{"s":41,"t":513,"y":8.09},{"s":41,"t":520,"y":8.1},{"s":41,"t":528,"y":8.11},{"s":41,"t":536,"y":8.12},{"s":41,"t":544,"y":8.14},{"s":41,"t":552,"y":8.21},{"s":41,"t":556,"y":8.2},{"s":41,"t":560,"y":8.19},{"s":41,"t":564,"y":8.15},{"s":41,"t":567,"y":8.12},{"s":41,"t":572,"y":8.15},{"s":41,"t":577,"y":8.17},{"s":41,"t":581,"y":8.18},{"s":41,"t":588,"y":8.17},{"s":41,"t":594,"y":8.17},{"s":41,"t":600,"y":8.16},
{"s":42,"t":10.5,"y":8.37},{"s":42,"t":15,"y":8.36},{"s":42,"t":20,"y":8.36},{"s":42,"t":25,"y":8.3},{"s":42,"t":28,"y":8.35},{"s":42,"t":33,"y":8.36},{"s":42,"t":38,"y":8.35},{"s":42,"t":43,"y":8.36},{"s":42,"t":48,"y":8.35},{"s":42,"t":53,"y":8.36},{"s":42,"t":58,"y":8.34},{"s":42,"t":63.5,"y":8.34},{"s":42,"t":66.3,"y":7.7},{"s":42,"t":67,"y":7.95},{"s":42,"t":68.5,"y":8.12},{"s":42,"t":71.3,"y":8.26},{"s":42,"t":77,"y":8.33},{"s":42,"t":82,"y":8.37},{"s":42,"t":86.6,"y":8.27},{"s":42,"t":90,"y":8.35},{"s":42,"t":95,"y":8.37},{"s":42,"t":100,"y":8.35},{"s":42,"t":104,"y":8.36},{"s":42,"t":108,"y":8.28},{"s":42,"t":112,"y":8.35},{"s":42,"t":117,"y":8.37},{"s":42,"t":122,"y":8.35},{"s":42,"t":127,"y":8.36},{"s":42,"t":132,"y":8.34},{"s":42,"t":136,"y":8.33},{"s":42,"t":140,"y":8.21},{"s":42,"t":144,"y":8.33},{"s":42,"t":148,"y":8.35},{"s":42,"t":152,"y":8.24},{"s":42,"t":156,"y":8.34},{"s":42,"t":160,"y":8.38},{"s":42,"t":165,"y":8.36},{"s":42,"t":170,"y":8.37},{"s":42,"t":175,"y":8.35},{"s":42,"t":180,"y":8.37},{"s":42,"t":185,"y":8.35},{"s":42,"t":190,"y":8.36},{"s":42,"t":195,"y":8.35},{"s":42,"t":200,"y":8.2},{"s":42,"t":204,"y":8.34},{"s":42,"t":208,"y":8.37},{"s":42,"t":213,"y":8.35},{"s":42,"t":218,"y":8.38},{"s":42,"t":223,"y":8.34},{"s":42,"t":228,"y":8.27},{"s":42,"t":232,"y":8.36},{"s":42,"t":236,"y":8.38},{"s":42,"t":240,"y":8.42},{"s":42,"t":244,"y":8.34},{"s":42,"t":248,"y":8.27},{"s":42,"t":250,"y":8.39},{"s":42,"t":254,"y":8.35},{"s":42,"t":258,"y":8.38},{"s":42,"t":262,"y":8.34},{"s":42,"t":266,"y":8.37},{"s":42,"t":270,"y":8.35},{"s":42,"t":273,"y":8.26},{"s":42,"t":276,"y":8.36},{"s":42,"t":278,"y":8.43},{"s":42,"t":280,"y":8.26},{"s":42,"t":282,"y":8.4},{"s":42,"t":286,"y":8.44},{"s":42,"t":290,"y":8.46},{"s":42,"t":295,"y":8.48},{"s":42,"t":299,"y":8.49},{"s":42,"t":301,"y":8.37},{"s":42,"t":305,"y":8.38},{"s":42,"t":310,"y":8.36},{"s":42,"t":315,"y":8.39},{"s":42,"t":320,"y":8.37},{"s":42,"t":325,"y":8.36},{"s":42,"t":330,"y":8.38},{"s":42,"t":335,"y":8.36},{"s":42,"t":340,"y":8.39},{"s":42,"t":345,"y":8.37},{"s":42,"t":350,"y":8.36},{"s":42,"t":356,"y":8.38},{"s":42,"t":362,"y":8.35},{"s":42,"t":368,"y":8.37},{"s":42,"t":374,"y":8.38},{"s":42,"t":380,"y":8.36},{"s":42,"t":386,"y":8.38},{"s":42,"t":392,"y":8.36},{"s":42,"t":398,"y":8.38},{"s":42,"t":404,"y":8.37},{"s":42,"t":410,"y":8.36},{"s":42,"t":416,"y":8.38},{"s":42,"t":422,"y":8.37},{"s":42,"t":430,"y":8.36},{"s":42,"t":438,"y":8.38},{"s":42,"t":446,"y":8.36},{"s":42,"t":454,"y":8.37},{"s":42,"t":462,"y":8.36},{"s":42,"t":470,"y":8.37},{"s":42,"t":480,"y":8.35},{"s":42,"t":488,"y":8.33},{"s":42,"t":494,"y":8.31},{"s":42,"t":501,"y":8.28},{"s":42,"t":507,"y":8.31},{"s":42,"t":513,"y":8.29},{"s":42,"t":520,"y":8.33},{"s":42,"t":528,"y":8.34},{"s":42,"t":536,"y":8.35},{"s":42,"t":544,"y":8.36},{"s":42,"t":548,"y":8.37},{"s":42,"t":554,"y":8.41},{"s":42,"t":560,"y":8.38},{"s":42,"t":568,"y":8.37},{"s":42,"t":576,"y":8.36},{"s":42,"t":584,"y":8.38},{"s":42,"t":592,"y":8.37},{"s":42,"t":600,"y":8.37},
{"s":43,"t":10.5,"y":8.61},{"s":43,"t":15,"y":8.6},{"s":43,"t":20,"y":8.61},{"s":43,"t":25,"y":8.56},{"s":43,"t":28,"y":8.6},{"s":43,"t":33,"y":8.61},{"s":43,"t":38,"y":8.6},{"s":43,"t":43,"y":8.62},{"s":43,"t":48,"y":8.6},{"s":43,"t":53,"y":8.61},{"s":43,"t":58,"y":8.6},{"s":43,"t":63.5,"y":8.59},{"s":43,"t":66.3,"y":7.95},{"s":43,"t":67.2,"y":8.1},{"s":43,"t":68.5,"y":8.32},{"s":43,"t":70,"y":8.45},{"s":43,"t":73,"y":8.55},{"s":43,"t":77,"y":8.58},{"s":43,"t":81,"y":8.6},{"s":43,"t":86,"y":8.62},{"s":43,"t":90,"y":8.59},{"s":43,"t":95,"y":8.62},{"s":43,"t":100,"y":8.6},{"s":43,"t":105,"y":8.61},{"s":43,"t":110,"y":8.58},{"s":43,"t":115,"y":8.62},{"s":43,"t":120,"y":8.6},{"s":43,"t":125,"y":8.61},{"s":43,"t":130,"y":8.59},{"s":43,"t":135,"y":8.61},{"s":43,"t":139,"y":8.58},{"s":43,"t":142.3,"y":8.5},{"s":43,"t":145,"y":8.59},{"s":43,"t":149,"y":8.6},{"s":43,"t":152,"y":8.53},{"s":43,"t":155,"y":8.6},{"s":43,"t":160,"y":8.61},{"s":43,"t":165,"y":8.62},{"s":43,"t":170,"y":8.6},{"s":43,"t":175,"y":8.62},{"s":43,"t":180,"y":8.6},{"s":43,"t":185,"y":8.61},{"s":43,"t":190,"y":8.59},{"s":43,"t":195,"y":8.6},{"s":43,"t":200,"y":8.49},{"s":43,"t":203,"y":8.56},{"s":43,"t":207,"y":8.6},{"s":43,"t":211,"y":8.65},{"s":43,"t":215,"y":8.59},{"s":43,"t":219,"y":8.57},{"s":43,"t":223,"y":8.64},{"s":43,"t":227,"y":8.67},{"s":43,"t":231,"y":8.6},{"s":43,"t":236,"y":8.64},{"s":43,"t":240,"y":8.51},{"s":43,"t":244,"y":8.65},{"s":43,"t":247,"y":8.6},{"s":43,"t":250,"y":8.59},{"s":43,"t":253,"y":8.66},{"s":43,"t":256,"y":8.67},{"s":43,"t":259,"y":8.57},{"s":43,"t":261,"y":8.56},{"s":43,"t":265,"y":8.64},{"s":43,"t":269,"y":8.65},{"s":43,"t":272,"y":8.6},{"s":43,"t":275,"y":8.57},{"s":43,"t":278,"y":8.84},{"s":43,"t":280,"y":8.5},{"s":43,"t":282,"y":8.36},{"s":43,"t":286,"y":8.44},{"s":43,"t":290,"y":8.52},{"s":43,"t":295,"y":8.58},{"s":43,"t":299,"y":8.6},{"s":43,"t":302,"y":8.53},{"s":43,"t":305,"y":8.6},{"s":43,"t":310,"y":8.59},{"s":43,"t":315,"y":8.62},{"s":43,"t":320,"y":8.58},{"s":43,"t":325,"y":8.61},{"s":43,"t":330,"y":8.59},{"s":43,"t":333,"y":8.65},{"s":43,"t":337,"y":8.59},{"s":43,"t":342,"y":8.61},{"s":43,"t":348,"y":8.58},{"s":43,"t":354,"y":8.62},{"s":43,"t":360,"y":8.59},{"s":43,"t":366,"y":8.61},{"s":43,"t":372,"y":8.58},{"s":43,"t":378,"y":8.61},{"s":43,"t":384,"y":8.54},{"s":43,"t":390,"y":8.6},{"s":43,"t":396,"y":8.62},{"s":43,"t":402,"y":8.59},{"s":43,"t":408,"y":8.61},{"s":43,"t":414,"y":8.58},{"s":43,"t":420,"y":8.61},{"s":43,"t":427,"y":8.56},{"s":43,"t":433,"y":8.61},{"s":43,"t":440,"y":8.59},{"s":43,"t":448,"y":8.61},{"s":43,"t":456,"y":8.6},{"s":43,"t":464,"y":8.61},{"s":43,"t":472,"y":8.59},{"s":43,"t":480,"y":8.61},{"s":43,"t":488,"y":8.6},{"s":43,"t":497,"y":8.56},{"s":43,"t":502,"y":8.55},{"s":43,"t":508,"y":8.59},{"s":43,"t":516,"y":8.6},{"s":43,"t":525,"y":8.61},{"s":43,"t":535,"y":8.6},{"s":43,"t":545,"y":8.62},{"s":43,"t":555,"y":8.6},{"s":43,"t":565,"y":8.61},{"s":43,"t":575,"y":8.6},{"s":43,"t":585,"y":8.61},{"s":43,"t":595,"y":8.6},{"s":43,"t":600,"y":8.61},
{"s":44,"t":10.5,"y":8.79},{"s":44,"t":14,"y":8.8},{"s":44,"t":18,"y":8.79},{"s":44,"t":22,"y":8.78},{"s":44,"t":25,"y":8.76},{"s":44,"t":28,"y":8.79},{"s":44,"t":32,"y":8.8},{"s":44,"t":36,"y":8.79},{"s":44,"t":40,"y":8.81},{"s":44,"t":42.5,"y":8.825},{"s":44,"t":45,"y":8.79},{"s":44,"t":50,"y":8.78},{"s":44,"t":55,"y":8.79},{"s":44,"t":60,"y":8.785},{"s":44,"t":63.5,"y":8.78},{"s":44,"t":66,"y":8.3},{"s":44,"t":67.5,"y":8.6},{"s":44,"t":70,"y":8.74},{"s":44,"t":73,"y":8.78},{"s":44,"t":78,"y":8.79},{"s":44,"t":82,"y":8.8},{"s":44,"t":86,"y":8.77},{"s":44,"t":90,"y":8.8},{"s":44,"t":95,"y":8.78},{"s":44,"t":100,"y":8.81},{"s":44,"t":105,"y":8.79},{"s":44,"t":110,"y":8.78},{"s":44,"t":115,"y":8.8},{"s":44,"t":120,"y":8.785},{"s":44,"t":125,"y":8.81},{"s":44,"t":130,"y":8.79},{"s":44,"t":135,"y":8.8},{"s":44,"t":140,"y":8.78},{"s":44,"t":145,"y":8.79},{"s":44,"t":150,"y":8.8},{"s":44,"t":155,"y":8.79},{"s":44,"t":160,"y":8.82},{"s":44,"t":163.5,"y":8.71},{"s":44,"t":167,"y":8.78},{"s":44,"t":172,"y":8.8},{"s":44,"t":177,"y":8.78},{"s":44,"t":182,"y":8.81},{"s":44,"t":186,"y":8.77},{"s":44,"t":190,"y":8.8},{"s":44,"t":195,"y":8.78},{"s":44,"t":200,"y":8.8},{"s":44,"t":205,"y":8.78},{"s":44,"t":208,"y":8.81},{"s":44,"t":211,"y":8.74},{"s":44,"t":214,"y":8.83},{"s":44,"t":217,"y":8.76},{"s":44,"t":220,"y":8.84},{"s":44,"t":223,"y":8.73},{"s":44,"t":226,"y":8.85},{"s":44,"t":229,"y":8.75},{"s":44,"t":232,"y":8.83},{"s":44,"t":234.5,"y":8.67},{"s":44,"t":237,"y":8.82},{"s":44,"t":240,"y":8.74},{"s":44,"t":243,"y":8.88},{"s":44,"t":246,"y":8.72},{"s":44,"t":249,"y":8.84},{"s":44,"t":251,"y":8.7},{"s":44,"t":253,"y":8.96},{"s":44,"t":255,"y":8.7},{"s":44,"t":258,"y":8.86},{"s":44,"t":261,"y":8.68},{"s":44,"t":264,"y":8.83},{"s":44,"t":267,"y":8.72},{"s":44,"t":270,"y":8.85},{"s":44,"t":273,"y":8.74},{"s":44,"t":275.5,"y":8.8},{"s":44,"t":278,"y":8.99},{"s":44,"t":279,"y":8.7},{"s":44,"t":280.5,"y":8.98},{"s":44,"t":282,"y":8.23},{"s":44,"t":285,"y":8.47},{"s":44,"t":288,"y":8.62},{"s":44,"t":292,"y":8.72},{"s":44,"t":296,"y":8.79},{"s":44,"t":299,"y":8.83},{"s":44,"t":301,"y":8.69},{"s":44,"t":304,"y":8.75},{"s":44,"t":307,"y":8.68},{"s":44,"t":310,"y":8.77},{"s":44,"t":313,"y":8.7},{"s":44,"t":316,"y":8.78},{"s":44,"t":319,"y":8.72},{"s":44,"t":322,"y":8.76},{"s":44,"t":325,"y":8.71},{"s":44,"t":328,"y":8.79},{"s":44,"t":331,"y":8.74},{"s":44,"t":333,"y":8.87},{"s":44,"t":336,"y":8.75},{"s":44,"t":340,"y":8.79},{"s":44,"t":344,"y":8.73},{"s":44,"t":348,"y":8.8},{"s":44,"t":352,"y":8.74},{"s":44,"t":356,"y":8.79},{"s":44,"t":360,"y":8.75},{"s":44,"t":364,"y":8.8},{"s":44,"t":368,"y":8.73},{"s":44,"t":372,"y":8.79},{"s":44,"t":376,"y":8.76},{"s":44,"t":380,"y":8.8},{"s":44,"t":384,"y":8.7},{"s":44,"t":388,"y":8.78},{"s":44,"t":394,"y":8.8},{"s":44,"t":400,"y":8.77},{"s":44,"t":406,"y":8.8},{"s":44,"t":412,"y":8.78},{"s":44,"t":418,"y":8.81},{"s":44,"t":424,"y":8.77},{"s":44,"t":430,"y":8.8},{"s":44,"t":436,"y":8.78},{"s":44,"t":442,"y":8.8},{"s":44,"t":448,"y":8.77},{"s":44,"t":454,"y":8.8},{"s":44,"t":460,"y":8.78},{"s":44,"t":470,"y":8.8},{"s":44,"t":480,"y":8.78},{"s":44,"t":490,"y":8.8},{"s":44,"t":500,"y":8.77},{"s":44,"t":510,"y":8.79},{"s":44,"t":520,"y":8.8},{"s":44,"t":530,"y":8.78},{"s":44,"t":540,"y":8.8},{"s":44,"t":550,"y":8.79},{"s":44,"t":560,"y":8.8},{"s":44,"t":570,"y":8.78},{"s":44,"t":580,"y":8.8},{"s":44,"t":590,"y":8.79},{"s":44,"t":599,"y":8.79},{"s":44,"t":600,"y":8.82}
]},
"hconcat":[
{"width":1834,"height":1392,
"layer":[
{"data":{"name":"pts"},"mark":{"type":"rule","color":"#b8b8b8","strokeWidth":1.5},
"encoding":{
"y":{"field":"y","type":"quantitative","scale":{"domain":[-0.2,10],"nice":false,"zero":false},"axis":{"values":[0,2,4,6,8,10],"format":"d","tickSize":5.4,"labelPadding":5}},
"x":{"datum":10.5,"type":"quantitative","scale":{"domain":[0,600],"nice":false,"zero":false},
"axis":{"values":[0,2.5,5,7.5,10,12.5,15,17.5,20,22.5,25,27.5,30,32.5,35,37.5,40,42.5,45,47.5,50,52.5,55,57.5,60,62.5,65,67.5,70,72.5,75,77.5,80,82.5,85,87.5,90,92.5,95,97.5,100,102.5,105,107.5,110,112.5,115,117.5,120,122.5,125,127.5,130,132.5,135,137.5,140,142.5,145,147.5,150,152.5,155,157.5,160,162.5,165,167.5,170,172.5,175,177.5,180,182.5,185,187.5,190,192.5,195,197.5,200,202.5,205,207.5,210,212.5,215,217.5,220,222.5,225,227.5,230,232.5,235,237.5,240,242.5,245,247.5,250,252.5,255,257.5,260,262.5,265,267.5,270,272.5,275,277.5,280,282.5,285,287.5,290,292.5,295,297.5,300,302.5,305,307.5,310,312.5,315,317.5,320,322.5,325,327.5,330,332.5,335,337.5,340,342.5,345,347.5,350,352.5,355,357.5,360,362.5,365,367.5,370,372.5,375,377.5,380,382.5,385,387.5,390,392.5,395,397.5,400,402.5,405,407.5,410,412.5,415,417.5,420,422.5,425,427.5,430,432.5,435,437.5,440,442.5,445,447.5,450,452.5,455,457.5,460,462.5,465,467.5,470,472.5,475,477.5,480,482.5,485,487.5,490,492.5,495,497.5,500,502.5,505,507.5,510,512.5,515,517.5,520,522.5,525,527.5,530,532.5,535,537.5,540,542.5,545,547.5,550,552.5,555,557.5,560,562.5,565,567.5,570,572.5,575,577.5,580,582.5,585,587.5,590,592.5,595,597.5,600],
"labelExpr":"(datum.value % 20 == 0) ? ((datum.value < 600 ? '0' : '') + floor(datum.value / 60) + ':' + (datum.value % 60 < 10 ? '0' : '') + (datum.value % 60)) : ''",
"tickSize":{"condition":{"test":"datum.value % 20 == 0","value":5.4},"value":3.1},
"labelPadding":5,"labelOverlap":false,"labelFlush":false}},
"x2":{"datum":600}}},
{"data":{"name":"lines"},"mark":{"type":"line","strokeWidth":2.3,"opacity":0.92,"clip":true},
"encoding":{
"x":{"field":"t","type":"quantitative"},
"y":{"field":"y","type":"quantitative"},
"color":{"field":"s","type":"quantitative","legend":null,"scale":{"type":"linear","domain":[0,10,15,20,24,28,32,44],"range":["#ff0000","#d01500","#a82800","#803f00","#555500","#2a6b00","#008000","#0000ff"],"interpolate":"rgb"}},
"detail":{"field":"s","type":"nominal"}}}
]},
{"width":51.6,"height":1392,"data":{"name":"pts"},
"layer":[
{"mark":{"type":"circle","size":105,"opacity":1},
"encoding":{
"x":{"field":"x","type":"quantitative","scale":{"domain":[-1.6,1.6],"nice":false,"zero":false},"axis":{"values":[-1,0,1],"labels":false,"tickSize":5.4}},
"y":{"field":"y","type":"quantitative","scale":{"domain":[-0.2,10],"nice":false,"zero":false},"axis":{"values":[0,2,4,6,8,10],"labels":false,"tickSize":5.4}},
"color":{"field":"s","type":"quantitative","legend":null,"scale":{"type":"linear","domain":[0,10,15,20,24,28,32,44],"range":["#ff0000","#d01500","#a82800","#803f00","#555500","#2a6b00","#008000","#0000ff"],"interpolate":"rgb"}}}},
{"mark":{"type":"line","color":"black","strokeWidth":1,"opacity":0.75},
"encoding":{"x":{"field":"x","type":"quantitative"},"y":{"field":"y","type":"quantitative"},"order":{"field":"s","type":"quantitative"}}}
]}
]}
